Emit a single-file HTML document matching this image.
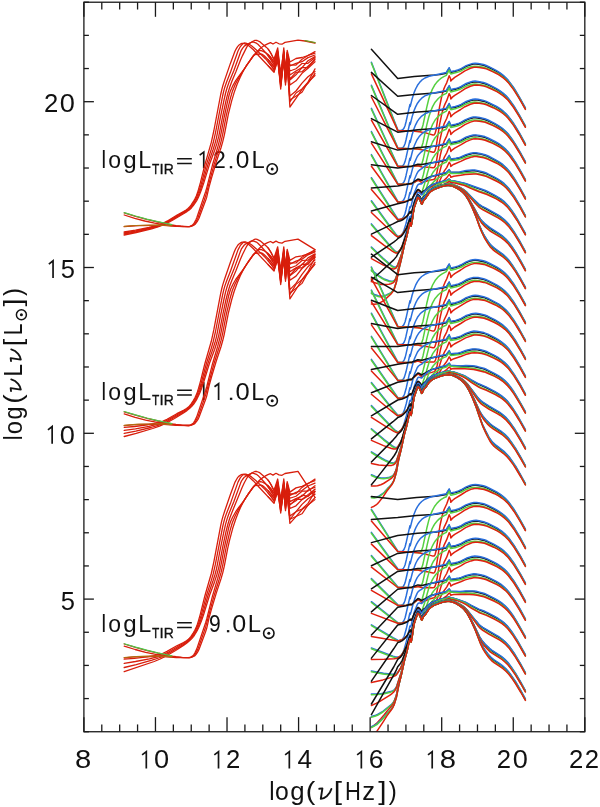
<!DOCTYPE html>
<html><head><meta charset="utf-8"><style>
html,body{margin:0;padding:0;background:#fff;}
svg{display:block;}
text{font-family:"Liberation Sans",sans-serif;fill:#111;}
.t{font-size:25px;}
.a{font-size:24px;}
.s{font-size:13.5px;}
.nu{font-family:"Liberation Serif",serif;font-style:italic;font-size:28px;}
</style></head><body>
<svg width="600" height="807" viewBox="0 0 600 807">
<g id="labels" style="will-change:transform">
<text transform="translate(60.78,609.50) scale(1.001,1.000)" style="font-family:'Liberation Sans',sans-serif;font-weight:normal;font-style:normal;font-size:25.5px">5</text>
<path d="M47.95,429.85 L52.15,426.55 L52.15,443.70" fill="none" stroke="#141414" stroke-width="1.7" stroke-linejoin="miter"/>
<text transform="translate(59.84,443.70) scale(1.066,1.000)" style="font-family:'Liberation Sans',sans-serif;font-weight:normal;font-style:normal;font-size:25.5px">0</text>
<path d="M48.85,264.05 L53.05,260.75 L53.05,277.90" fill="none" stroke="#141414" stroke-width="1.7" stroke-linejoin="miter"/>
<text transform="translate(60.78,277.90) scale(1.001,1.000)" style="font-family:'Liberation Sans',sans-serif;font-weight:normal;font-style:normal;font-size:25.5px">5</text>
<text transform="translate(43.91,112.10) scale(1.007,1.000)" style="font-family:'Liberation Sans',sans-serif;font-weight:normal;font-style:normal;font-size:25.5px">2</text>
<text transform="translate(59.84,112.10) scale(1.066,1.000)" style="font-family:'Liberation Sans',sans-serif;font-weight:normal;font-style:normal;font-size:25.5px">0</text>
<text transform="translate(74.98,768.40) scale(1.145,1.000)" style="font-family:'Liberation Sans',sans-serif;font-weight:normal;font-style:normal;font-size:25.5px">8</text>
<path d="M142.11,754.95 L146.31,751.65 L146.31,768.40" fill="none" stroke="#141414" stroke-width="1.7" stroke-linejoin="miter"/>
<text transform="translate(154.00,768.40) scale(1.066,1.000)" style="font-family:'Liberation Sans',sans-serif;font-weight:normal;font-style:normal;font-size:25.5px">0</text>
<path d="M214.32,754.95 L218.52,751.65 L218.52,768.40" fill="none" stroke="#141414" stroke-width="1.7" stroke-linejoin="miter"/>
<text transform="translate(225.98,768.40) scale(1.007,1.000)" style="font-family:'Liberation Sans',sans-serif;font-weight:normal;font-style:normal;font-size:25.5px">2</text>
<path d="M285.13,754.95 L289.33,751.65 L289.33,768.40" fill="none" stroke="#141414" stroke-width="1.7" stroke-linejoin="miter"/>
<text transform="translate(297.48,768.40) scale(1.027,1.000)" style="font-family:'Liberation Sans',sans-serif;font-weight:normal;font-style:normal;font-size:25.5px">4</text>
<path d="M357.14,754.95 L361.34,751.65 L361.34,768.40" fill="none" stroke="#141414" stroke-width="1.7" stroke-linejoin="miter"/>
<text transform="translate(368.74,768.40) scale(1.045,1.000)" style="font-family:'Liberation Sans',sans-serif;font-weight:normal;font-style:normal;font-size:25.5px">6</text>
<path d="M428.00,754.95 L432.20,751.65 L432.20,768.40" fill="none" stroke="#141414" stroke-width="1.7" stroke-linejoin="miter"/>
<text transform="translate(439.68,768.40) scale(1.145,1.000)" style="font-family:'Liberation Sans',sans-serif;font-weight:normal;font-style:normal;font-size:25.5px">8</text>
<text transform="translate(496.82,768.40) scale(1.007,1.000)" style="font-family:'Liberation Sans',sans-serif;font-weight:normal;font-style:normal;font-size:25.5px">2</text>
<text transform="translate(512.75,768.40) scale(1.066,1.000)" style="font-family:'Liberation Sans',sans-serif;font-weight:normal;font-style:normal;font-size:25.5px">0</text>
<text transform="translate(569.03,768.40) scale(1.007,1.000)" style="font-family:'Liberation Sans',sans-serif;font-weight:normal;font-style:normal;font-size:25.5px">2</text>
<text transform="translate(584.73,768.40) scale(1.007,1.000)" style="font-family:'Liberation Sans',sans-serif;font-weight:normal;font-style:normal;font-size:25.5px">2</text>
<text transform="translate(269.19,799.70) scale(0.956,1.000)" style="font-family:'Liberation Sans',sans-serif;font-weight:normal;font-style:normal;font-size:25px">l</text>
<text transform="translate(275.06,799.70) scale(0.991,1.000)" style="font-family:'Liberation Sans',sans-serif;font-weight:normal;font-style:normal;font-size:25px">o</text>
<text transform="translate(290.22,799.70) scale(1.032,1.000)" style="font-family:'Liberation Sans',sans-serif;font-weight:normal;font-style:normal;font-size:25px">g</text>
<text transform="translate(305.82,799.70) scale(1.147,1.000)" style="font-family:'Liberation Sans',sans-serif;font-weight:normal;font-style:normal;font-size:25px">(</text>
<text transform="translate(333.68,799.70) scale(1.188,1.000)" style="font-family:'Liberation Sans',sans-serif;font-weight:normal;font-style:normal;font-size:25px">[</text>
<text transform="translate(345.09,799.70) scale(0.881,1.000)" style="font-family:'Liberation Sans',sans-serif;font-weight:normal;font-style:normal;font-size:25px">H</text>
<text transform="translate(362.26,799.70) scale(1.025,1.000)" style="font-family:'Liberation Sans',sans-serif;font-weight:normal;font-style:normal;font-size:25px">z</text>
<text transform="translate(378.17,799.70) scale(1.188,1.000)" style="font-family:'Liberation Sans',sans-serif;font-weight:normal;font-style:normal;font-size:25px">]</text>
<text transform="translate(388.76,799.70) scale(0.966,1.000)" style="font-family:'Liberation Sans',sans-serif;font-weight:normal;font-style:normal;font-size:25px">)</text>
<path transform="translate(319.00,787.70) scale(1.0)" d="M0.3,1.1 L3.4,0.7 L1.8,11.2 C5.4,10.8 10.6,7.6 12.4,1.3" fill="none" stroke="#141414" stroke-width="1.9" stroke-linecap="round" stroke-linejoin="round"/>
<g transform="rotate(-90)"><text transform="translate(-440.16,21.60) scale(0.865,1.000)" style="font-family:'Liberation Sans',sans-serif;font-weight:normal;font-style:normal;font-size:25px">l</text><text transform="translate(-434.20,21.60) scale(0.949,1.000)" style="font-family:'Liberation Sans',sans-serif;font-weight:normal;font-style:normal;font-size:25px">o</text><text transform="translate(-419.38,21.60) scale(0.934,1.000)" style="font-family:'Liberation Sans',sans-serif;font-weight:normal;font-style:normal;font-size:25px">g</text><text transform="translate(-403.83,21.60) scale(1.116,1.000)" style="font-family:'Liberation Sans',sans-serif;font-weight:normal;font-style:normal;font-size:25px">(</text><text transform="translate(-376.56,21.60) scale(0.907,1.000)" style="font-family:'Liberation Sans',sans-serif;font-weight:normal;font-style:normal;font-size:25px">L</text><text transform="translate(-346.07,21.60) scale(1.047,1.000)" style="font-family:'Liberation Sans',sans-serif;font-weight:normal;font-style:normal;font-size:25px">[</text><text transform="translate(-335.23,21.60) scale(0.844,1.000)" style="font-family:'Liberation Sans',sans-serif;font-weight:normal;font-style:normal;font-size:25px">L</text><text transform="translate(-306.53,21.60) scale(1.167,1.000)" style="font-family:'Liberation Sans',sans-serif;font-weight:normal;font-style:normal;font-size:25px">]</text><text transform="translate(-295.94,21.60) scale(0.950,1.000)" style="font-family:'Liberation Sans',sans-serif;font-weight:normal;font-style:normal;font-size:25px">)</text><path transform="translate(-391.40,9.96) scale(0.97)" d="M0.3,1.1 L3.4,0.7 L1.8,11.2 C5.4,10.8 10.6,7.6 12.4,1.3" fill="none" stroke="#141414" stroke-width="1.9" stroke-linecap="round" stroke-linejoin="round"/><path transform="translate(-361.40,9.96) scale(0.97)" d="M0.3,1.1 L3.4,0.7 L1.8,11.2 C5.4,10.8 10.6,7.6 12.4,1.3" fill="none" stroke="#141414" stroke-width="1.9" stroke-linecap="round" stroke-linejoin="round"/></g>
<circle cx="21.40" cy="314.70" r="5.0" fill="none" stroke="#141414" stroke-width="1.5"/><circle cx="21.40" cy="314.70" r="1.5" fill="#141414"/>
<text transform="translate(101.62,168.30) scale(0.890,1.000)" style="font-family:'Liberation Sans',sans-serif;font-weight:normal;font-style:normal;font-size:23px">l</text>
<text transform="translate(108.29,168.30) scale(0.999,1.000)" style="font-family:'Liberation Sans',sans-serif;font-weight:normal;font-style:normal;font-size:23px">o</text>
<text transform="translate(123.24,168.30) scale(1.049,1.000)" style="font-family:'Liberation Sans',sans-serif;font-weight:normal;font-style:normal;font-size:23px">g</text>
<text transform="translate(138.18,168.30) scale(1.016,1.000)" style="font-family:'Liberation Sans',sans-serif;font-weight:normal;font-style:normal;font-size:23px">L</text>
<text transform="translate(151.98,173.80) scale(0.796,1.000)" style="stroke:#141414;stroke-width:0.35px;font-family:'Liberation Sans',sans-serif;font-weight:normal;font-style:normal;font-size:15px">T</text>
<text transform="translate(159.51,173.80) scale(1.001,1.000)" style="stroke:#141414;stroke-width:0.35px;font-family:'Liberation Sans',sans-serif;font-weight:normal;font-style:normal;font-size:15px">I</text>
<text transform="translate(163.86,173.80) scale(0.926,1.000)" style="stroke:#141414;stroke-width:0.35px;font-family:'Liberation Sans',sans-serif;font-weight:normal;font-style:normal;font-size:15px">R</text>
<path d="M177.1,158.70H191.8M177.1,163.40H191.8" stroke="#141414" stroke-width="1.5"/>
<path d="M199.65,155.10 L203.75,152.10 L203.75,168.30" fill="none" stroke="#141414" stroke-width="1.7" stroke-linejoin="miter"/>
<text transform="translate(212.94,168.30) scale(1.002,1.000)" style="font-family:'Liberation Sans',sans-serif;font-weight:normal;font-style:normal;font-size:23px">2</text>
<rect x="229.80" y="166.10" width="2.40" height="2.2" fill="#141414"/>
<text transform="translate(235.64,168.30) scale(1.064,1.000)" style="font-family:'Liberation Sans',sans-serif;font-weight:normal;font-style:normal;font-size:23px">0</text>
<text transform="translate(251.55,168.30) scale(1.035,1.000)" style="font-family:'Liberation Sans',sans-serif;font-weight:normal;font-style:normal;font-size:23px">L</text>
<circle cx="272.20" cy="169.00" r="5.2" fill="none" stroke="#141414" stroke-width="1.6"/><circle cx="272.20" cy="169.00" r="1.5" fill="#141414"/>
<text transform="translate(101.62,399.90) scale(0.890,1.000)" style="font-family:'Liberation Sans',sans-serif;font-weight:normal;font-style:normal;font-size:23px">l</text>
<text transform="translate(108.29,399.90) scale(0.999,1.000)" style="font-family:'Liberation Sans',sans-serif;font-weight:normal;font-style:normal;font-size:23px">o</text>
<text transform="translate(123.24,399.90) scale(1.049,1.000)" style="font-family:'Liberation Sans',sans-serif;font-weight:normal;font-style:normal;font-size:23px">g</text>
<text transform="translate(138.18,399.90) scale(1.016,1.000)" style="font-family:'Liberation Sans',sans-serif;font-weight:normal;font-style:normal;font-size:23px">L</text>
<text transform="translate(151.98,405.40) scale(0.796,1.000)" style="stroke:#141414;stroke-width:0.35px;font-family:'Liberation Sans',sans-serif;font-weight:normal;font-style:normal;font-size:15px">T</text>
<text transform="translate(159.51,405.40) scale(1.001,1.000)" style="stroke:#141414;stroke-width:0.35px;font-family:'Liberation Sans',sans-serif;font-weight:normal;font-style:normal;font-size:15px">I</text>
<text transform="translate(163.86,405.40) scale(0.926,1.000)" style="stroke:#141414;stroke-width:0.35px;font-family:'Liberation Sans',sans-serif;font-weight:normal;font-style:normal;font-size:15px">R</text>
<path d="M177.1,390.30H191.8M177.1,395.00H191.8" stroke="#141414" stroke-width="1.5"/>
<path d="M199.65,386.70 L203.75,383.70 L203.75,399.90" fill="none" stroke="#141414" stroke-width="1.7" stroke-linejoin="miter"/>
<path d="M214.50,386.70 L218.60,383.70 L218.60,399.90" fill="none" stroke="#141414" stroke-width="1.7" stroke-linejoin="miter"/>
<rect x="229.90" y="397.70" width="2.40" height="2.2" fill="#141414"/>
<text transform="translate(235.40,399.90) scale(1.110,1.000)" style="font-family:'Liberation Sans',sans-serif;font-weight:normal;font-style:normal;font-size:23px">0</text>
<text transform="translate(251.18,399.90) scale(1.016,1.000)" style="font-family:'Liberation Sans',sans-serif;font-weight:normal;font-style:normal;font-size:23px">L</text>
<circle cx="272.20" cy="400.80" r="5.2" fill="none" stroke="#141414" stroke-width="1.6"/><circle cx="272.20" cy="400.80" r="1.5" fill="#141414"/>
<text transform="translate(101.62,632.30) scale(0.890,1.000)" style="font-family:'Liberation Sans',sans-serif;font-weight:normal;font-style:normal;font-size:23px">l</text>
<text transform="translate(108.29,632.30) scale(0.999,1.000)" style="font-family:'Liberation Sans',sans-serif;font-weight:normal;font-style:normal;font-size:23px">o</text>
<text transform="translate(123.24,632.30) scale(1.049,1.000)" style="font-family:'Liberation Sans',sans-serif;font-weight:normal;font-style:normal;font-size:23px">g</text>
<text transform="translate(138.18,632.30) scale(1.016,1.000)" style="font-family:'Liberation Sans',sans-serif;font-weight:normal;font-style:normal;font-size:23px">L</text>
<text transform="translate(151.98,637.80) scale(0.796,1.000)" style="stroke:#141414;stroke-width:0.35px;font-family:'Liberation Sans',sans-serif;font-weight:normal;font-style:normal;font-size:15px">T</text>
<text transform="translate(159.51,637.80) scale(1.001,1.000)" style="stroke:#141414;stroke-width:0.35px;font-family:'Liberation Sans',sans-serif;font-weight:normal;font-style:normal;font-size:15px">I</text>
<text transform="translate(163.86,637.80) scale(0.926,1.000)" style="stroke:#141414;stroke-width:0.35px;font-family:'Liberation Sans',sans-serif;font-weight:normal;font-style:normal;font-size:15px">R</text>
<path d="M177.1,622.70H191.8M177.1,627.40H191.8" stroke="#141414" stroke-width="1.5"/>
<text transform="translate(209.02,632.30) scale(0.913,1.000)" style="font-family:'Liberation Sans',sans-serif;font-weight:normal;font-style:normal;font-size:23px">9</text>
<rect x="226.90" y="630.10" width="2.40" height="2.2" fill="#141414"/>
<text transform="translate(232.22,632.30) scale(1.091,1.000)" style="font-family:'Liberation Sans',sans-serif;font-weight:normal;font-style:normal;font-size:23px">0</text>
<text transform="translate(247.75,632.30) scale(1.035,1.000)" style="font-family:'Liberation Sans',sans-serif;font-weight:normal;font-style:normal;font-size:23px">L</text>
<circle cx="268.80" cy="633.20" r="5.2" fill="none" stroke="#141414" stroke-width="1.6"/><circle cx="268.80" cy="633.20" r="1.5" fill="#141414"/>
</g>
<defs><clipPath id="pc"><rect x="83.90" y="2.22" width="500.92" height="729.52"/></clipPath></defs>
<g id="curves" clip-path="url(#pc)" fill="none" stroke-linejoin="round" stroke-linecap="round">
<path d="M124.2,232.0 135.5,230.2 149.0,227.5 156.9,225.5 160.2,224.4 162.5,223.5 167.0,221.2 177.1,215.0 183.5,211.6 186.1,210.0 188.0,208.5 189.5,207.1 191.0,205.1 193.3,201.7 194.8,199.1 196.3,196.0 197.4,193.1 198.5,189.5 200.4,182.7 204.9,164.6 211.3,142.4 213.9,130.5 220.7,94.5 221.8,89.6 222.9,85.5 224.8,79.6 230.4,63.4 234.2,53.2 235.3,50.5 236.5,48.4 237.6,46.6 238.7,45.3 241.0,43.7 242.1,43.3 242.8,43.3 244.3,43.6 245.8,44.1 247.3,44.8 248.8,45.7 253.4,49.8 258.2,55.2 274.0,72.0 277.7,58.0 280.7,89.0 283.8,58.0 285.5,85.0 287.2,63.0 289.9,107.0 296.0,98.4 302.0,89.4 308.0,83.3 315.0,73.5" stroke="#d81e0c" stroke-width="1.3"/>
<path d="M124.2,233.0 135.8,231.0 149.7,228.0 157.2,226.0 162.9,224.0 168.9,220.9 186.5,210.4 188.8,208.7 190.3,207.2 192.2,204.8 194.0,202.0 195.5,199.4 197.0,196.3 199.3,190.3 201.2,184.1 206.4,164.6 211.3,149.3 213.2,142.8 215.4,133.1 222.6,96.0 223.7,91.2 224.8,87.2 226.7,81.8 230.8,71.3 238.0,51.0 240.2,46.8 241.0,45.8 242.8,43.8 243.6,43.3 244.3,43.0 245.8,43.1 249.2,44.3 251.5,45.8 256.4,50.0 265.4,58.7 269.5,63.5 274.0,69.5 277.7,56.3 280.7,86.5 283.8,56.3 285.5,82.5 287.2,60.5 289.9,96.0 296.0,91.0 302.0,83.1 308.0,76.8 315.0,71.4" stroke="#d81e0c" stroke-width="1.3"/>
<path d="M124.2,234.0 135.8,231.8 150.5,228.4 158.0,226.3 163.6,224.2 170.8,220.5 186.5,211.1 188.8,209.4 190.7,207.8 192.5,205.5 194.4,202.8 195.9,200.3 197.8,196.6 198.9,194.0 200.4,190.0 202.7,182.8 207.9,164.6 213.2,149.2 215.1,143.1 216.2,138.9 217.3,133.7 220.3,117.9 224.1,99.6 225.6,93.0 227.1,87.8 228.9,82.6 233.8,70.7 240.6,52.0 241.3,50.3 242.5,48.4 244.3,46.1 246.2,44.9 250.7,42.5 251.8,42.1 252.6,42.0 253.7,42.2 256.4,43.2 257.9,44.3 261.6,48.1 265.7,52.7 269.9,58.2 274.0,64.5 277.7,52.1 280.7,81.5 283.8,52.1 285.5,77.5 287.2,55.5 289.9,75.0 296.0,71.0 302.0,67.6 308.0,60.7 315.0,56.6" stroke="#d81e0c" stroke-width="1.3"/>
<path d="M124.2,235.0 136.2,232.5 151.6,228.8 158.7,226.7 164.4,224.5 168.5,222.5 173.4,219.8 183.5,213.8 186.9,211.6 189.2,209.9 191.4,207.9 193.3,205.7 195.2,203.0 196.7,200.6 198.2,197.7 200.0,193.5 201.5,189.6 203.8,182.9 209.4,164.6 214.7,150.3 216.9,143.4 218.8,136.2 222.6,116.6 225.9,101.1 227.8,93.4 229.7,87.2 232.0,81.1 236.1,71.3 240.2,60.8 242.5,55.6 246.6,47.4 247.7,45.7 249.6,43.6 250.7,42.7 253.0,41.3 254.1,40.7 255.2,40.3 256.0,40.3 257.1,40.5 260.1,41.9 266.5,47.4 268.4,49.4 271.0,53.5 274.0,59.5 277.7,47.9 280.7,76.5 283.8,47.9 285.5,72.5 287.2,50.5 289.9,62.0 296.0,58.5 302.0,57.5 308.0,55.5 315.0,51.6" stroke="#d81e0c" stroke-width="1.3"/>
<path d="M124.2,212.9 135.5,216.3 146.7,219.4 157.6,222.0 171.9,225.0 176.0,225.6 180.9,226.2 188.0,226.6 189.9,226.3 192.5,225.0 193.3,224.3 194.4,222.6 195.9,219.8 196.7,218.0 205.7,191.4 206.8,187.6 212.4,165.3 217.7,147.3 219.6,140.2 221.1,133.2 224.1,117.5 227.1,103.7 228.9,95.8 230.4,90.9 232.7,85.9 235.7,80.6 238.0,77.4 243.6,70.0 253.0,56.1 254.1,54.9 254.9,54.5 260.1,54.0 261.2,54.0 262.4,54.4 264.2,55.8 268.7,60.2 271.4,63.4 274.0,67.0 277.7,56.2 280.7,84.0 283.8,56.2 285.5,80.0 287.2,58.0 289.9,85.0 296.0,80.8 302.0,73.3 308.0,68.2 315.0,61.7" stroke="#d81e0c" stroke-width="1.3"/>
<path d="M124.2,215.0 134.7,218.3 144.8,221.0 154.6,223.1 165.1,224.8 175.6,226.0 183.5,226.5 188.8,226.6 189.9,226.5 191.0,226.2 193.7,224.8 194.4,224.1 195.5,222.6 197.0,219.9 197.8,218.3 204.2,200.2 205.7,195.6 213.9,165.1 219.2,148.1 221.1,141.3 222.6,134.7 226.3,115.4 230.1,99.3 232.3,91.6 235.3,84.3 238.7,77.9 246.2,66.0 252.2,57.3 254.5,54.5 257.9,51.4 259.4,50.6 260.1,50.5 261.2,50.7 262.7,51.2 264.2,52.0 266.5,53.3 268.0,54.5 271.0,57.8 274.0,62.0 277.7,52.0 280.7,79.0 283.8,52.0 285.5,75.0 287.2,53.0 289.9,66.0 296.0,63.3 302.0,61.7 308.0,57.6 315.0,55.0" stroke="#d81e0c" stroke-width="1.3"/>
<path d="M124.2,226.7 131.5,226.0 139.2,225.6 157.9,225.3 163.8,225.4 176.3,226.4 189.5,226.6 190.9,226.4 192.4,225.9 194.2,225.0 195.3,224.2 197.2,221.7 199.0,218.3 205.6,200.6 206.7,197.2 208.9,187.6 211.5,178.1 216.2,162.3 221.0,147.8 222.8,141.4 224.3,135.1 228.3,114.4 231.6,101.1 234.2,92.4 237.1,84.3 240.1,77.4 243.4,70.7 246.7,65.2 253.3,56.2 257.3,51.5 259.9,48.8 262.1,47.0 264.6,45.3 267.6,43.8 270.5,42.6 273.0,44.0 276.0,42.2 279.0,43.8 282.0,44.2 285.0,42.4 298.0,40.2 305.0,41.0 315.0,43.0" stroke="#d81e0c" stroke-width="1.3"/>
<path d="M268.0,65.6 274.0,72.0 277.7,60.8 280.7,85.6 283.8,60.8 285.5,82.4 287.2,64.8 289.9,100.0 302.0,92.2 308.0,82.3 315.0,75.5" stroke="#d81e0c" stroke-width="1.2"/>
<path d="M268.0,61.7 270.9,65.3 274.0,69.5 277.7,59.1 280.7,83.1 283.8,59.1 285.5,79.9 287.2,62.3 289.9,102.0 296.0,93.0 302.0,89.0 308.0,82.1 315.0,68.9" stroke="#d81e0c" stroke-width="1.2"/>
<path d="M268.0,55.6 270.9,59.7 274.0,64.5 277.7,54.9 280.7,78.1 283.8,54.9 285.5,74.9 287.2,57.3 289.9,80.0 296.0,74.8 302.0,67.7 308.0,67.6 315.0,58.6" stroke="#d81e0c" stroke-width="1.2"/>
<path d="M268.0,49.0 269.4,50.8 270.8,53.1 274.0,59.5 277.7,50.7 280.7,73.1 283.8,50.7 285.5,69.9 287.2,52.3 289.9,65.0 296.0,65.1 302.0,59.3 308.0,55.4 315.0,53.1" stroke="#d81e0c" stroke-width="1.2"/>
<path d="M268.0,59.5 270.9,62.8 274.0,67.0 277.7,59.0 280.7,80.6 283.8,59.0 285.5,77.4 287.2,59.8 289.9,79.0 296.0,72.3 302.0,71.7 315.0,59.7" stroke="#d81e0c" stroke-width="1.2"/>
<path d="M268.0,54.5 270.8,57.5 274.0,62.0 277.7,54.8 280.7,75.6 283.8,54.8 285.5,72.4 287.2,54.8 289.9,71.0 296.0,68.7 302.0,63.5 308.0,63.3 315.0,57.5" stroke="#d81e0c" stroke-width="1.2"/>
<path d="M124.2,212.6 135.5,216.0 146.7,219.1 157.6,221.7 171.9,224.7" stroke="#4cc84a" stroke-width="1.2"/>
<path d="M124.2,226.4 135.9,225.5 149.5,225.1 162.0,225.0 171.9,225.8" stroke="#b07010" stroke-width="1.2"/>
<path d="M305.0,40.6 315.0,42.6" stroke="#6a9a20" stroke-width="1.3"/>
<path d="M124.2,427.3 134.7,426.5 147.5,424.9 156.1,423.2 160.2,422.2 162.5,421.4 167.0,419.3 176.8,413.7 183.5,410.3 186.5,408.5 188.4,407.1 189.5,406.0 191.0,404.1 193.3,400.6 194.8,398.0 196.3,394.9 197.4,392.0 198.5,388.4 200.4,381.6 204.9,363.5 211.3,341.3 213.9,329.4 220.7,293.4 221.8,288.5 222.9,284.4 224.8,278.5 230.4,262.3 234.2,252.1 235.3,249.4 236.5,247.3 237.6,245.5 238.7,244.2 241.0,242.6 242.1,242.2 242.8,242.2 244.3,242.5 245.8,243.0 247.3,243.7 248.8,244.6 253.4,248.7 258.2,254.1 274.0,270.9 277.7,256.9 280.7,284.5 283.8,256.9 285.5,281.3 287.2,261.9 289.9,298.9 296.0,289.5 302.0,279.8 308.0,273.1 315.0,262.4" stroke="#d81e0c" stroke-width="1.3"/>
<path d="M124.2,430.4 135.5,428.8 149.0,426.3 156.9,424.4 160.2,423.4 162.9,422.4 168.9,419.4 186.5,409.3 188.8,407.6 190.3,406.1 192.2,403.7 194.0,400.9 195.5,398.3 197.0,395.2 199.3,389.2 201.2,383.0 206.4,363.5 211.3,348.2 213.2,341.7 215.4,332.0 222.6,294.9 223.7,290.1 224.8,286.1 226.7,280.7 230.8,270.2 238.0,249.9 240.2,245.7 241.0,244.7 242.8,242.7 243.6,242.2 244.3,241.9 245.8,242.0 249.2,243.2 251.5,244.7 256.4,248.9 265.4,257.6 269.5,262.4 274.0,268.4 277.7,255.2 280.7,282.0 283.8,255.2 285.5,278.8 287.2,259.4 289.9,289.6 296.0,283.4 302.0,274.3 308.0,266.7 315.0,259.9" stroke="#d81e0c" stroke-width="1.3"/>
<path d="M124.2,433.4 135.8,431.1 150.9,427.5 158.0,425.4 163.6,423.3 167.0,421.6 171.1,419.3 183.9,411.7 186.9,409.8 189.2,408.0 191.0,406.3 192.9,403.9 194.8,401.1 196.3,398.5 197.8,395.5 198.9,392.9 200.4,388.9 202.7,381.7 207.9,363.5 213.2,348.1 215.1,342.0 216.2,337.8 217.3,332.6 220.3,316.8 224.1,298.5 225.6,291.9 227.1,286.7 228.9,281.5 233.8,269.6 240.6,250.9 241.3,249.2 242.5,247.3 244.3,245.0 246.2,243.8 250.7,241.4 251.8,241.0 252.6,240.9 253.7,241.1 256.4,242.1 257.9,243.2 261.6,247.0 265.7,251.6 269.9,257.1 274.0,263.4 277.7,251.0 280.7,277.0 283.8,251.0 285.5,273.8 287.2,254.4 289.9,271.8 296.0,267.9 302.0,264.7 308.0,257.9 315.0,253.9" stroke="#d81e0c" stroke-width="1.3"/>
<path d="M124.2,436.5 136.2,433.3 152.7,428.5 159.5,426.2 165.1,423.7 169.6,421.3 174.5,418.5 183.5,412.9 186.9,410.6 189.5,408.6 191.8,406.4 193.7,404.1 195.5,401.3 197.0,398.8 198.5,395.8 200.0,392.4 201.5,388.5 203.8,381.8 209.4,363.5 214.7,349.2 216.9,342.3 218.8,335.1 222.6,315.5 225.9,300.0 227.8,292.3 229.7,286.1 232.0,280.0 236.1,270.2 240.2,259.7 242.5,254.5 246.6,246.3 247.7,244.6 249.6,242.5 250.7,241.6 253.0,240.2 254.1,239.6 255.2,239.2 256.0,239.2 257.1,239.4 260.1,240.8 266.5,246.3 268.4,248.3 271.0,252.4 274.0,258.4 277.7,246.8 280.7,272.0 283.8,246.8 285.5,268.8 287.2,249.4 289.9,260.4 296.0,256.8 302.0,255.8 308.0,253.8 315.0,249.9" stroke="#d81e0c" stroke-width="1.3"/>
<path d="M124.2,411.8 135.5,415.2 147.1,418.4 158.0,421.0 172.3,424.0 176.0,424.5 181.6,425.1 188.4,425.5 189.5,425.3 190.7,424.9 192.9,423.6 193.7,422.7 194.8,420.9 196.7,416.9 205.7,390.3 206.8,386.5 212.4,364.2 217.7,346.2 219.6,339.1 221.1,332.1 224.1,316.4 227.1,302.6 228.9,294.7 230.4,289.8 232.7,284.8 235.7,279.5 238.0,276.3 243.6,268.9 252.6,255.5 253.7,254.2 254.9,253.4 260.1,252.9 261.2,252.9 262.4,253.3 264.2,254.7 268.7,259.1 271.4,262.3 274.0,265.9 277.7,255.1 280.7,279.5 283.8,255.1 285.5,276.3 287.2,256.9 289.9,280.3 296.0,276.1 302.0,268.5 308.0,263.4 315.0,256.9" stroke="#d81e0c" stroke-width="1.3"/>
<path d="M124.2,413.9 135.1,417.3 145.6,420.1 155.7,422.2 166.6,423.9 176.4,424.9 183.9,425.4 188.8,425.5 189.9,425.4 191.4,424.9 193.3,424.0 194.0,423.4 194.8,422.6 195.9,420.8 197.8,417.2 204.2,399.1 205.7,394.5 213.9,364.0 219.2,347.0 221.1,340.2 222.6,333.6 226.3,314.3 230.1,298.2 232.3,290.5 235.0,284.0 238.0,278.1 245.5,266.0 248.8,261.0 252.6,255.7 254.5,253.4 257.9,250.3 259.0,249.6 260.1,249.4 261.6,249.7 263.1,250.3 266.1,252.0 267.6,253.1 270.6,256.2 274.0,260.9 277.7,250.9 280.7,274.5 283.8,250.9 285.5,271.3 287.2,251.9 289.9,264.1 296.0,261.1 302.0,259.2 308.0,254.8 315.0,251.9" stroke="#d81e0c" stroke-width="1.3"/>
<path d="M124.2,425.6 131.5,424.9 139.2,424.5 157.9,424.2 163.8,424.3 176.3,425.3 189.5,425.5 190.6,425.4 192.0,424.9 193.9,424.1 195.0,423.4 196.8,421.2 198.3,418.8 199.0,417.2 205.6,399.5 206.7,396.1 208.9,386.5 211.5,377.0 216.2,361.2 221.0,346.7 222.8,340.3 224.3,334.0 228.3,313.3 231.6,300.0 234.2,291.3 237.1,283.2 240.4,275.5 244.1,268.3 247.4,263.0 253.6,254.7 257.7,250.0 259.9,247.7 262.1,245.9 264.6,244.2 267.6,242.7 270.5,241.5 273.0,242.9 276.0,241.1 279.0,242.7 282.0,243.1 285.0,241.3 298.0,239.1 315.0,249.6" stroke="#d81e0c" stroke-width="1.3"/>
<path d="M268.0,264.5 274.0,270.9 277.7,259.7 280.7,281.8 283.8,259.7 285.5,279.2 287.2,263.7 289.9,293.3 302.0,283.4 308.0,272.5 315.0,264.4" stroke="#d81e0c" stroke-width="1.2"/>
<path d="M268.0,260.6 270.9,264.2 274.0,268.4 277.7,258.0 280.7,279.3 283.8,258.0 285.5,276.7 287.2,261.2 289.9,294.4 296.0,284.4 302.0,279.6 308.0,271.7 315.0,257.4" stroke="#d81e0c" stroke-width="1.2"/>
<path d="M268.0,254.5 270.9,258.6 274.0,263.4 277.7,253.8 280.7,274.3 283.8,253.8 285.5,271.7 287.2,256.2 289.9,275.8 296.0,271.0 302.0,264.2 308.0,264.4 315.0,255.9" stroke="#d81e0c" stroke-width="1.2"/>
<path d="M268.0,247.9 269.4,249.7 270.8,252.0 274.0,258.4 277.7,249.6 280.7,269.3 283.8,249.6 285.5,266.7 287.2,251.2 289.9,262.8 296.0,263.0 302.0,257.3 308.0,253.6 315.0,251.4" stroke="#d81e0c" stroke-width="1.2"/>
<path d="M268.0,258.4 270.9,261.7 274.0,265.9 277.7,257.9 280.7,276.8 283.8,257.9 285.5,274.2 287.2,258.7 289.9,275.5 296.0,268.5 302.0,267.6 315.0,254.9" stroke="#d81e0c" stroke-width="1.2"/>
<path d="M268.0,253.4 270.8,256.4 274.0,260.9 277.7,253.7 280.7,271.8 283.8,253.7 285.5,269.2 287.2,253.7 289.9,268.1 296.0,265.8 302.0,260.5 308.0,260.2 315.0,254.4" stroke="#d81e0c" stroke-width="1.2"/>
<path d="M124.2,411.5 135.5,414.9 146.7,418.0 157.6,420.6 171.9,423.6" stroke="#4cc84a" stroke-width="1.2"/>
<path d="M124.2,425.3 135.9,424.4 149.5,424.0 162.0,423.9 171.9,424.7" stroke="#b07010" stroke-width="1.2"/>
<path d="M315.0,249.2" stroke="#6a9a20" stroke-width="1.3"/>
<path d="M124.2,659.1 134.3,658.4 147.1,656.9 155.7,655.4 160.2,654.3 162.5,653.5 167.0,651.4 176.8,645.8 183.5,642.5 186.5,640.7 188.4,639.3 189.5,638.2 191.0,636.3 193.3,632.8 194.8,630.2 196.3,627.1 197.4,624.2 198.5,620.6 200.4,613.8 204.9,595.7 211.3,573.5 213.9,561.6 220.7,525.6 221.8,520.7 222.9,516.6 224.8,510.7 230.4,494.5 234.2,484.3 235.3,481.6 236.5,479.5 237.6,477.7 238.7,476.4 241.0,474.8 242.1,474.4 242.8,474.4 244.3,474.7 245.8,475.2 247.3,475.9 248.8,476.8 253.4,480.9 258.2,486.3 274.0,503.1 277.7,489.1 280.7,513.0 283.8,489.1 285.5,510.6 287.2,494.1 289.9,523.4 296.0,516.6 302.0,509.5 308.0,505.3 315.0,497.6" stroke="#d81e0c" stroke-width="1.3"/>
<path d="M124.2,663.3 135.5,661.5 149.4,658.8 157.2,656.8 162.9,654.8 168.9,651.8 186.5,641.5 188.8,639.8 190.3,638.3 192.2,635.9 194.0,633.1 195.5,630.5 197.0,627.4 199.3,621.4 201.2,615.2 206.4,595.7 211.3,580.4 213.2,573.9 215.4,564.2 222.6,527.1 223.7,522.3 224.8,518.3 226.7,512.9 230.8,502.4 238.0,482.1 240.2,477.9 241.0,476.9 242.8,474.9 243.6,474.4 244.3,474.1 245.8,474.2 249.2,475.4 251.5,476.9 256.4,481.1 265.4,489.8 269.5,494.6 274.0,500.6 277.7,487.4 280.7,510.5 283.8,487.4 285.5,508.1 287.2,491.6 289.9,516.0 296.0,511.7 302.0,504.4 308.0,498.7 315.0,494.1" stroke="#d81e0c" stroke-width="1.3"/>
<path d="M124.2,667.5 136.2,664.6 152.0,660.2 158.7,658.0 164.0,655.8 171.9,651.4 183.9,644.1 186.9,642.1 189.2,640.3 191.0,638.4 192.9,636.1 194.8,633.3 196.3,630.7 197.8,627.7 198.9,625.1 200.4,621.1 202.7,613.9 207.9,595.7 213.2,580.3 215.1,574.2 216.2,570.0 217.3,564.8 220.3,549.0 224.1,530.7 225.6,524.1 227.1,518.9 228.9,513.7 233.8,501.8 240.6,483.1 241.3,481.4 242.5,479.5 244.3,477.2 246.2,476.0 250.7,473.6 251.8,473.2 252.6,473.1 253.7,473.3 256.4,474.3 257.9,475.4 261.6,479.2 265.7,483.8 269.9,489.3 274.0,495.6 277.7,483.2 280.7,505.5 283.8,483.2 285.5,503.1 287.2,486.6 289.9,501.7 296.0,498.6 302.0,496.2 308.0,490.2 315.0,487.1" stroke="#d81e0c" stroke-width="1.3"/>
<path d="M124.2,671.7 154.2,661.5 160.2,659.0 166.2,656.0 175.6,650.5 183.5,645.4 186.9,643.0 189.5,640.8 191.8,638.6 193.7,636.3 195.5,633.5 197.0,631.0 198.5,628.0 200.0,624.6 201.5,620.7 203.8,614.0 209.4,595.7 214.7,581.4 216.9,574.5 218.8,567.3 222.6,547.7 225.9,532.2 227.8,524.5 229.7,518.3 232.0,512.2 242.1,487.6 244.3,482.8 246.6,478.5 247.7,476.8 249.2,475.1 250.3,474.1 252.2,472.8 253.7,472.0 254.9,471.5 255.6,471.4 256.7,471.5 259.7,472.7 266.5,478.5 268.4,480.5 271.0,484.6 274.0,490.6 277.7,479.0 280.7,500.5 283.8,479.0 285.5,498.1 287.2,481.6 289.9,492.1 296.0,487.9 302.0,486.3 308.0,483.7 315.0,479.1" stroke="#d81e0c" stroke-width="1.3"/>
<path d="M124.2,644.0 135.5,647.4 147.1,650.6 158.0,653.2 172.3,656.2 176.0,656.7 181.6,657.3 188.4,657.7 189.5,657.5 190.7,657.1 192.9,655.8 193.7,654.9 194.8,653.1 196.7,649.1 205.7,622.5 206.8,618.7 212.4,596.4 217.7,578.4 219.6,571.3 221.1,564.3 224.1,548.6 227.1,534.8 228.9,526.9 230.4,522.0 232.7,517.0 235.7,511.7 238.0,508.5 243.6,501.1 253.0,487.2 254.1,486.0 254.9,485.6 260.1,485.1 261.2,485.1 262.4,485.5 264.2,486.9 268.7,491.3 271.4,494.5 274.0,498.1 277.7,487.3 280.7,508.0 283.8,487.3 285.5,505.6 287.2,489.1 289.9,508.5 296.0,505.8 302.0,499.6 308.0,496.0 315.0,491.1" stroke="#d81e0c" stroke-width="1.3"/>
<path d="M124.2,646.1 135.1,649.5 145.6,652.3 155.7,654.4 166.6,656.1 176.4,657.1 183.9,657.6 188.8,657.7 189.9,657.6 191.4,657.1 193.3,656.2 194.0,655.6 194.8,654.8 195.9,653.0 197.8,649.4 204.2,631.3 205.7,626.7 213.9,596.2 219.2,579.2 221.1,572.4 222.6,565.8 226.3,546.5 230.1,530.4 232.3,522.7 235.0,516.2 238.0,510.3 245.1,498.8 248.5,493.7 252.6,487.9 254.5,485.6 257.9,482.5 259.0,481.8 260.1,481.6 261.6,481.9 263.1,482.5 266.1,484.2 267.6,485.3 270.6,488.4 274.0,493.1 277.7,483.1 280.7,503.0 283.8,483.1 285.5,500.6 287.2,484.1 289.9,495.4 296.0,492.4 302.0,490.5 308.0,486.0 315.0,483.1" stroke="#d81e0c" stroke-width="1.3"/>
<path d="M124.2,657.8 131.5,657.1 139.2,656.7 157.9,656.4 163.8,656.5 176.3,657.5 189.5,657.7 191.3,657.4 193.5,656.5 195.0,655.6 196.1,654.4 197.9,651.6 199.0,649.4 205.6,631.7 206.7,628.3 208.9,618.7 211.5,609.2 216.2,593.4 221.0,578.9 222.8,572.5 224.3,566.2 227.6,548.8 229.4,540.9 232.7,528.3 235.7,519.2 237.9,513.6 240.4,507.7 243.0,502.5 245.6,498.0 248.5,493.6 253.3,487.3 258.0,481.8 260.6,479.2 262.8,477.6 265.0,476.2 267.9,474.7 270.5,473.7 273.0,475.1 276.0,473.3 279.0,474.9 282.0,475.3 285.0,473.5 298.0,471.3 315.0,497.4" stroke="#d81e0c" stroke-width="1.3"/>
<path d="M268.0,496.7 274.0,503.1 277.7,491.9 280.7,511.0 283.8,491.9 285.5,509.1 287.2,495.9 289.9,519.3 302.0,513.8 308.0,505.1 315.0,499.6" stroke="#d81e0c" stroke-width="1.2"/>
<path d="M268.0,492.8 270.9,496.4 274.0,500.6 277.7,490.2 280.7,508.5 283.8,490.2 285.5,506.6 287.2,493.4 289.9,519.5 296.0,511.7 302.0,509.0 308.0,503.4 315.0,491.6" stroke="#d81e0c" stroke-width="1.2"/>
<path d="M268.0,486.7 270.9,490.8 274.0,495.6 277.7,486.0 280.7,503.5 283.8,486.0 285.5,501.6 287.2,488.4 289.9,504.6 296.0,500.8 302.0,495.1 308.0,496.4 315.0,489.1" stroke="#d81e0c" stroke-width="1.2"/>
<path d="M268.0,480.1 269.4,481.9 270.8,484.2 274.0,490.6 277.7,481.8 280.7,498.5 283.8,481.8 285.5,496.6 287.2,483.4 289.9,493.8 296.0,493.6 302.0,487.4 308.0,483.3 315.0,480.6" stroke="#d81e0c" stroke-width="1.2"/>
<path d="M268.0,490.6 270.9,493.9 274.0,498.1 277.7,490.1 280.7,506.0 283.8,490.1 285.5,504.1 287.2,490.9 289.9,505.1 296.0,499.2 302.0,499.4 315.0,489.1" stroke="#d81e0c" stroke-width="1.2"/>
<path d="M268.0,485.6 270.8,488.6 274.0,493.1 277.7,485.9 280.7,501.0 283.8,485.9 285.5,499.1 287.2,485.9 289.9,498.3 296.0,496.2 302.0,491.2 308.0,491.1 315.0,485.6" stroke="#d81e0c" stroke-width="1.2"/>
<path d="M124.2,643.7 135.5,647.1 146.7,650.2 157.6,652.8 171.9,655.8" stroke="#4cc84a" stroke-width="1.2"/>
<path d="M124.2,657.5 135.9,656.6 149.5,656.2 162.0,656.1 171.9,656.9" stroke="#b07010" stroke-width="1.2"/>
<path d="M315.0,497.0" stroke="#6a9a20" stroke-width="1.3"/><path d="M371.4,49.3 397.7,78.4 414.3,76.5 434.5,75.1 439.9,74.4 446.3,73.2 449.2,68.4 450.5,72.1 450.8,72.3 455.3,71.4 458.5,70.4 461.1,69.3 466.2,66.3 470.7,64.7 473.6,64.0 475.8,63.9 478.7,64.2 483.5,65.2 485.7,66.0 493.7,69.8 498.8,72.7 503.0,75.8 507.2,79.7 510.7,84.1 515.2,90.6 520.6,99.8 525.4,108.6" stroke="#111111" stroke-width="1.5"/>
<path d="M371.4,62.2 397.7,129.6 397.7,130.4 400.9,130.4 402.2,130.1 403.1,129.4 404.1,128.0 405.1,125.5 406.0,122.0 409.9,104.6 410.2,106.6 412.1,99.0 414.0,92.9 415.6,89.0 417.5,85.3 419.5,82.6 421.7,80.2 424.9,78.0 429.1,76.3 432.6,75.4 446.3,72.5 449.2,67.7 450.5,71.4 450.8,71.6 455.3,70.7 458.5,69.7 461.1,68.6 466.2,65.6 470.4,64.1 472.9,63.4 475.2,63.2 478.0,63.4 483.5,64.5 485.7,65.3 488.9,66.7 496.6,70.7 500.1,72.9 503.3,75.3 505.9,77.7 508.1,80.1 513.6,87.5 519.0,96.4 525.4,107.9" stroke="#2a6fdc" stroke-width="1.5"/>
<path d="M371.4,63.0 397.7,130.4 407.9,130.7 418.5,131.5 419.8,131.3 420.7,130.6 422.0,128.2 423.0,125.0 426.8,107.1 428.7,99.3 430.3,94.2 432.3,89.4 434.5,85.3 437.1,81.9 439.0,80.0 441.2,78.2 443.8,76.6 446.3,75.4 449.2,70.2 450.5,73.7 450.8,73.9 456.3,72.6 459.5,71.6 461.4,70.7 465.6,68.4 468.8,67.3 472.3,66.4 474.8,66.2 479.3,66.5 484.8,67.6 488.0,68.8 495.6,72.4 499.5,74.5 503.0,77.0 506.5,80.1 509.1,83.0 512.6,87.7 515.8,92.4 520.9,101.0 525.4,109.0" stroke="#55d040" stroke-width="1.5"/>
<path d="M371.4,73.9 397.7,130.4 408.6,130.8 417.9,131.5 426.5,133.1 432.9,135.0 433.5,135.1 434.2,134.9 435.1,133.4 436.1,129.7 439.6,106.6 441.9,95.5 443.8,89.1 445.1,86.0 446.7,82.8 449.2,75.7 450.5,78.5 450.8,81.1 452.4,79.3 454.7,77.4 460.7,73.7 464.9,70.9 470.4,68.3 473.9,67.3 476.4,67.2 479.3,67.4 483.8,68.2 486.4,68.9 493.1,71.9 496.9,73.7 500.4,75.8 503.6,78.2 506.2,80.4 508.1,82.4 513.6,89.6 519.0,98.2 525.4,109.4" stroke="#e0200f" stroke-width="1.5"/>
<path d="M371.4,72.4 397.7,96.3 414.7,94.4 434.5,93.0 439.9,92.3 446.3,91.1 449.2,86.3 450.5,90.0 450.8,90.2 455.3,89.3 458.5,88.3 461.1,87.2 466.2,84.2 470.7,82.6 473.6,81.9 475.8,81.8 478.4,82.1 485.1,83.7 487.6,84.7 493.1,87.4 498.2,90.3 502.7,93.4 506.8,97.3 510.4,101.6 514.8,108.1 520.6,117.8 525.4,126.5" stroke="#111111" stroke-width="1.5"/>
<path d="M371.4,85.3 397.7,147.5 397.7,148.3 400.9,148.3 402.2,148.0 403.1,147.4 404.1,145.9 405.1,143.5 406.0,140.0 409.9,122.5 410.2,124.5 412.1,116.9 414.0,110.8 415.6,106.9 417.5,103.2 419.5,100.5 421.7,98.2 424.9,95.9 429.1,94.2 432.6,93.3 446.3,90.4 449.2,85.6 450.5,89.3 450.8,89.5 455.3,88.6 458.5,87.6 461.1,86.5 466.2,83.5 470.4,82.0 472.9,81.3 475.2,81.1 478.0,81.4 483.5,82.5 485.7,83.2 488.9,84.6 496.6,88.6 500.1,90.8 503.3,93.3 505.9,95.6 508.1,98.0 513.6,105.4 519.0,114.3 525.4,125.8" stroke="#2a6fdc" stroke-width="1.5"/>
<path d="M371.4,86.1 397.7,148.3 418.8,149.1 419.8,148.9 420.7,148.3 421.7,146.7 423.0,142.7 426.8,124.9 428.7,117.2 430.7,111.2 432.6,106.6 435.1,102.2 438.3,98.5 440.3,96.8 442.2,95.4 446.3,93.4 449.2,88.1 450.5,91.7 450.8,91.9 456.3,90.5 459.5,89.5 461.4,88.6 465.6,86.3 468.8,85.2 472.3,84.3 474.8,84.1 479.3,84.5 484.8,85.5 488.0,86.7 495.6,90.3 499.5,92.5 503.0,95.0 506.5,98.1 509.1,100.9 512.6,105.6 515.8,110.4 520.9,118.9 525.4,126.9" stroke="#55d040" stroke-width="1.5"/>
<path d="M371.4,97.0 397.7,148.3 417.9,149.1 428.1,151.0 432.9,152.2 433.5,152.2 434.2,152.0 435.1,150.6 436.1,147.0 439.6,124.4 441.9,113.4 443.8,107.0 445.1,103.9 446.7,100.7 449.2,93.6 450.5,96.4 450.8,99.0 452.4,97.2 454.7,95.3 460.7,91.6 464.9,88.8 470.4,86.3 473.9,85.2 476.4,85.1 479.3,85.3 483.8,86.1 486.4,86.9 493.1,89.8 496.9,91.7 500.4,93.8 503.6,96.1 506.2,98.4 508.1,100.3 513.6,107.5 519.0,116.1 525.4,127.3" stroke="#e0200f" stroke-width="1.5"/>
<path d="M371.4,95.5 397.7,114.3 417.5,112.0 436.4,110.8 446.3,108.9 449.2,104.2 450.5,107.9 450.8,108.1 455.3,107.2 458.5,106.2 461.1,105.1 466.2,102.2 470.7,100.5 473.2,99.9 475.2,99.8 477.7,99.9 484.4,101.4 488.9,103.3 494.7,106.2 498.2,108.2 502.7,111.4 506.8,115.2 510.4,119.5 514.8,126.0 520.6,135.7 525.4,144.5" stroke="#111111" stroke-width="1.5"/>
<path d="M371.4,108.4 397.7,165.5 397.7,166.3 400.9,166.2 402.2,165.9 403.1,165.3 404.1,163.8 405.1,161.4 406.0,157.9 409.9,140.4 410.2,142.4 412.1,134.8 414.0,128.7 415.6,124.8 417.5,121.1 419.5,118.4 421.7,116.1 424.9,113.8 429.1,112.1 432.6,111.2 446.3,108.3 449.2,103.5 450.5,107.2 450.8,107.4 455.3,106.5 458.5,105.5 461.1,104.4 466.2,101.5 470.4,99.9 472.9,99.3 475.2,99.1 478.0,99.3 483.5,100.4 485.7,101.1 488.9,102.6 496.6,106.5 500.1,108.7 503.3,111.2 505.9,113.5 508.1,115.9 513.6,123.3 519.0,132.2 525.4,143.8" stroke="#2a6fdc" stroke-width="1.5"/>
<path d="M371.4,109.2 397.7,166.3 412.1,166.6 417.5,165.8 419.8,165.8 420.4,165.6 421.1,165.1 422.0,163.2 423.0,160.1 426.8,142.6 428.7,135.0 430.7,129.0 432.6,124.4 435.1,120.0 438.3,116.3 440.3,114.7 442.2,113.3 446.3,111.2 449.2,106.0 450.5,109.5 450.8,109.7 456.3,108.4 459.5,107.4 461.4,106.5 465.6,104.2 468.8,103.1 472.3,102.2 474.8,102.0 479.3,102.4 484.8,103.4 488.0,104.6 495.6,108.2 499.5,110.4 503.0,112.9 506.5,116.0 509.1,118.8 512.6,123.5 515.8,128.3 520.9,136.8 525.4,144.9" stroke="#55d040" stroke-width="1.5"/>
<path d="M371.4,120.1 397.7,166.3 411.5,166.6 417.9,165.8 422.0,167.0 429.1,167.3 432.9,167.7 434.2,167.5 434.8,166.8 435.5,165.4 436.4,161.6 439.9,140.1 442.2,129.8 444.1,123.9 446.7,118.5 449.2,111.4 450.5,114.2 450.8,116.8 452.4,115.0 454.7,113.2 460.7,109.5 464.9,106.7 470.4,104.2 473.9,103.2 476.4,103.0 479.3,103.3 483.8,104.0 486.4,104.8 493.1,107.7 496.9,109.6 500.4,111.7 503.6,114.0 506.2,116.3 508.1,118.3 513.6,125.4 519.0,134.0 525.4,145.3" stroke="#e0200f" stroke-width="1.5"/>
<path d="M371.4,118.6 397.7,132.2 417.9,129.8 436.4,128.5 446.3,126.7 449.2,122.0 450.5,125.7 450.8,125.9 455.3,125.0 458.5,124.0 461.1,122.9 466.2,120.0 470.7,118.4 473.2,117.8 475.2,117.7 477.7,117.9 484.1,119.2 488.6,121.0 494.4,123.9 497.9,125.9 502.7,129.3 506.8,133.1 510.4,137.4 514.8,143.9 520.6,153.6 525.4,162.4" stroke="#111111" stroke-width="1.5"/>
<path d="M371.4,131.5 397.7,183.4 397.7,184.2 400.9,184.1 402.2,183.8 403.1,183.1 404.1,181.6 405.1,179.2 406.0,175.7 409.9,158.2 410.2,160.2 412.4,151.5 414.3,145.7 416.9,140.0 419.5,136.2 421.1,134.5 423.3,132.6 425.2,131.5 427.8,130.3 432.3,129.0 446.3,126.0 449.2,121.3 450.5,125.0 450.8,125.2 455.6,124.2 459.1,123.1 461.1,122.2 465.6,119.6 470.4,117.8 473.2,117.1 475.8,117.0 479.6,117.5 484.8,118.7 488.0,120.0 494.7,123.4 498.8,125.8 502.4,128.3 505.9,131.5 508.8,134.6 512.3,139.4 515.8,144.8 520.9,153.5 525.4,161.7" stroke="#2a6fdc" stroke-width="1.5"/>
<path d="M371.4,132.3 397.7,184.2 406.3,184.1 410.2,183.7 411.5,183.9 412.4,183.6 417.5,180.4 418.2,180.3 420.4,180.8 421.1,180.6 421.4,180.4 422.3,178.3 423.3,175.0 427.1,158.4 428.7,152.3 430.7,146.5 432.6,142.0 435.1,137.7 438.3,134.0 440.3,132.4 442.2,131.0 446.3,129.0 449.2,123.8 450.5,127.3 450.8,127.5 456.3,126.2 459.5,125.2 461.4,124.4 465.6,122.1 468.8,121.0 472.3,120.1 474.8,119.9 479.3,120.3 484.8,121.4 488.0,122.6 495.6,126.2 499.5,128.3 503.0,130.8 506.5,133.9 509.1,136.8 512.6,141.5 515.8,146.2 520.9,154.8 525.4,162.8" stroke="#55d040" stroke-width="1.5"/>
<path d="M371.4,143.2 397.7,184.2 406.3,184.1 410.2,183.7 411.5,183.9 412.4,183.6 414.7,182.1 417.9,180.3 418.8,180.5 420.1,181.3 421.4,182.3 422.0,182.5 423.3,181.9 425.5,181.5 429.1,180.3 433.5,179.5 434.5,179.0 435.1,178.2 435.8,176.9 436.7,173.6 440.3,155.1 442.5,146.0 444.1,141.4 446.7,136.1 449.2,129.2 450.5,131.9 450.8,134.5 452.4,132.7 454.3,131.1 460.7,127.3 464.9,124.6 470.4,122.1 473.9,121.1 476.4,120.9 479.3,121.2 483.8,121.9 486.4,122.7 493.1,125.6 496.9,127.5 500.4,129.6 503.6,132.0 506.2,134.2 508.1,136.2 513.6,143.3 519.0,152.0 525.4,163.2" stroke="#e0200f" stroke-width="1.5"/>
<path d="M371.4,141.7 397.7,150.1 411.8,148.4 417.9,147.4 422.0,147.3 436.4,145.9 446.3,144.1 449.2,139.5 450.5,143.1 450.8,143.3 454.0,142.7 456.9,142.1 459.5,141.2 461.1,140.6 466.2,137.8 470.7,136.3 473.2,135.7 475.2,135.6 477.4,135.7 483.5,137.0 485.4,137.6 488.0,138.7 497.6,143.7 502.4,147.0 506.8,151.1 510.4,155.4 514.8,161.8 520.6,171.6 525.4,180.3" stroke="#111111" stroke-width="1.5"/>
<path d="M371.4,154.6 397.7,201.2 397.7,202.0 400.6,201.9 401.9,201.6 403.1,200.7 404.1,199.2 405.1,196.7 406.0,193.2 409.9,175.8 410.2,177.7 412.4,169.1 414.3,163.1 416.6,158.0 417.5,156.2 418.8,154.4 420.4,152.7 423.3,150.3 425.2,149.1 427.8,147.9 432.3,146.5 446.3,143.4 449.2,138.8 450.5,142.4 450.8,142.6 455.9,141.6 459.1,140.7 461.1,139.9 465.9,137.2 470.4,135.7 473.2,135.0 475.8,134.9 479.6,135.4 484.8,136.6 488.0,138.0 495.0,141.5 498.8,143.7 502.4,146.3 505.9,149.4 508.8,152.6 512.3,157.3 515.8,162.7 520.9,171.4 525.4,179.6" stroke="#2a6fdc" stroke-width="1.5"/>
<path d="M371.4,155.4 397.7,202.0 402.2,201.9 406.0,201.3 407.6,200.8 410.2,199.4 410.5,199.5 410.8,200.0 411.1,200.1 411.5,200.0 412.4,198.8 414.7,194.5 416.3,192.5 417.2,190.8 417.9,190.2 418.8,190.5 421.1,192.5 421.4,192.6 421.7,192.4 422.3,191.1 424.3,184.8 427.5,172.7 429.1,167.3 431.0,162.2 432.9,158.1 435.5,154.2 438.7,150.8 442.2,148.2 446.3,146.2 449.2,141.2 450.5,144.6 450.8,144.8 456.6,143.6 459.5,142.7 461.4,142.0 465.6,139.8 469.1,138.7 472.6,137.9 475.2,137.8 479.6,138.3 485.1,139.4 488.3,140.6 496.0,144.3 499.8,146.5 503.0,148.7 506.5,151.9 509.1,154.7 512.6,159.4 515.8,164.2 520.9,172.7 525.4,180.7" stroke="#55d040" stroke-width="1.5"/>
<path d="M371.4,166.3 397.7,202.0 402.2,201.9 406.0,201.3 407.6,200.8 410.2,199.4 410.5,199.5 410.8,200.0 411.1,200.1 412.1,199.3 414.7,194.5 416.3,192.5 417.2,190.8 417.9,190.2 418.5,190.3 419.1,190.9 420.1,191.9 421.4,193.9 421.7,194.1 422.0,194.0 423.3,192.5 425.5,191.3 429.1,188.2 431.0,187.0 434.5,185.5 435.8,184.2 436.7,182.4 437.7,179.6 440.9,167.2 442.8,161.0 444.4,157.1 446.7,153.0 449.2,146.4 450.5,149.0 450.8,151.4 452.4,149.8 454.7,148.1 460.7,144.8 466.2,141.6 470.4,139.9 472.9,139.1 475.2,138.8 478.0,138.9 481.9,139.5 485.1,140.2 487.6,141.2 492.8,143.4 496.6,145.3 499.8,147.1 502.7,149.1 505.2,151.3 509.1,155.3 514.2,162.2 520.3,172.1 525.4,181.1" stroke="#e0200f" stroke-width="1.5"/>
<path d="M371.4,164.8 397.7,168.0 411.5,166.2 417.9,164.3 422.0,164.5 430.0,163.0 437.7,161.9 446.3,160.1 449.2,156.1 450.5,159.3 450.8,159.5 455.9,158.8 459.1,158.1 461.1,157.5 465.9,155.3 472.3,153.6 475.5,153.4 480.3,154.1 483.8,154.9 486.0,155.7 495.3,160.3 501.1,163.9 505.9,168.0 509.4,172.0 514.5,179.3 520.6,189.5 525.4,198.2" stroke="#111111" stroke-width="1.5"/>
<path d="M371.4,177.7 397.7,219.0 397.7,219.8 400.6,219.3 401.9,218.8 403.1,217.6 404.1,215.9 405.1,213.2 406.0,209.7 409.9,192.5 410.2,194.1 414.3,179.5 416.6,174.2 418.2,171.4 419.8,169.9 421.7,168.6 423.9,166.7 426.8,165.0 429.1,163.9 433.5,162.5 446.3,159.6 449.2,155.4 450.5,158.7 450.8,158.9 455.9,158.2 459.5,157.4 461.4,156.7 465.9,154.6 470.7,153.2 473.6,152.7 476.1,152.7 480.0,153.4 485.1,154.7 488.3,156.0 495.6,159.8 499.5,162.1 503.0,164.7 506.5,168.0 509.1,170.9 512.6,175.7 515.8,180.6 520.9,189.4 525.4,197.6" stroke="#2a6fdc" stroke-width="1.5"/>
<path d="M371.4,178.5 397.7,219.8 400.6,219.4 402.2,219.0 405.7,217.1 407.3,215.7 410.2,211.6 410.5,211.7 410.8,212.9 411.1,213.2 412.1,211.1 414.3,202.6 417.5,195.3 417.9,195.0 418.5,195.2 420.1,197.1 421.4,199.6 421.7,199.7 422.0,199.4 425.2,191.3 429.4,179.5 431.3,175.4 433.5,171.7 436.1,168.6 439.3,165.7 442.5,163.7 446.3,162.0 449.2,157.6 450.5,160.7 450.8,160.8 459.5,159.4 461.1,158.9 465.9,157.0 470.7,155.9 473.9,155.5 477.4,155.8 483.5,156.9 485.7,157.5 488.9,158.9 496.6,162.5 500.4,164.8 503.6,167.2 506.8,170.1 509.4,173.0 513.6,178.7 516.1,182.6 521.2,191.2 525.4,198.7" stroke="#55d040" stroke-width="1.5"/>
<path d="M371.4,189.4 393.0,214.5 397.7,219.8 401.9,219.1 403.8,218.3 406.7,216.4 407.6,215.3 410.2,211.6 410.5,211.7 410.8,212.9 411.1,213.2 412.1,211.1 413.4,205.8 414.7,201.7 417.2,196.0 417.9,195.0 418.5,195.2 419.1,195.9 420.1,197.3 421.4,200.2 421.7,200.5 422.0,200.4 423.3,198.0 425.5,196.0 427.5,193.4 429.4,191.2 431.6,189.5 435.5,187.5 436.7,186.4 438.7,183.3 443.1,173.2 444.7,170.4 446.7,167.6 449.2,162.2 450.5,164.4 450.8,166.4 452.4,165.1 454.0,164.2 460.7,161.4 465.6,159.0 472.3,156.9 474.2,156.6 476.4,156.6 479.3,157.0 483.8,157.8 487.6,159.1 494.0,162.0 497.9,163.9 501.4,166.1 504.6,168.6 506.8,170.7 508.8,172.8 513.9,179.7 520.0,189.4 525.4,199.1" stroke="#e0200f" stroke-width="1.5"/>
<path d="M371.4,187.9 397.7,186.0 406.3,184.5 410.2,183.5 411.1,183.6 412.4,183.0 414.7,181.2 417.9,179.1 418.8,179.2 421.4,180.3 422.0,180.3 423.3,179.6 425.5,178.9 429.1,177.3 431.6,176.4 442.2,173.8 446.3,173.0 449.2,170.0 450.5,172.4 450.8,172.6 459.8,172.5 465.9,171.3 472.0,170.8 474.2,170.8 476.8,171.1 484.1,172.9 488.3,174.6 494.7,177.9 498.2,179.9 501.7,182.3 504.9,185.0 507.2,187.3 509.1,189.5 514.2,196.7 520.3,206.9 525.4,216.2" stroke="#111111" stroke-width="1.5"/>
<path d="M371.4,200.8 393.0,230.5 395.7,234.0 397.7,236.2 397.7,237.0 400.3,235.9 401.5,234.9 402.8,233.1 403.8,230.9 406.0,223.6 409.9,206.8 410.2,207.9 410.5,207.0 410.8,206.9 411.1,206.1 413.4,196.4 414.3,193.0 417.2,185.9 418.2,184.5 420.1,183.8 421.1,184.0 421.7,183.8 423.6,181.8 427.1,179.1 429.4,177.6 431.6,176.5 434.2,175.6 440.9,173.8 446.3,172.6 449.2,169.6 450.5,172.0 450.8,172.2 459.5,172.0 466.2,170.6 472.3,170.1 474.8,170.1 478.0,170.7 483.5,172.0 487.0,173.3 494.0,176.8 497.6,178.8 501.1,181.1 504.3,183.7 506.8,186.2 508.8,188.4 513.9,195.5 520.0,205.6 525.4,215.5" stroke="#2a6fdc" stroke-width="1.5"/>
<path d="M371.4,201.6 393.0,231.3 395.7,234.8 397.7,237.0 399.9,236.0 401.2,235.3 402.2,234.4 403.5,232.8 407.0,226.9 409.2,220.6 410.2,218.6 410.5,218.6 410.8,220.7 411.1,221.2 412.1,217.6 413.4,210.0 414.3,205.8 417.5,197.2 417.9,196.8 418.2,196.8 418.8,197.3 420.1,199.2 421.4,202.5 421.7,202.8 422.0,202.5 423.3,199.3 425.5,195.7 427.8,190.7 429.7,187.1 432.6,183.0 435.5,180.1 438.0,178.2 440.9,176.4 443.5,175.3 446.3,174.3 449.2,171.2 450.5,173.4 450.8,173.6 460.1,173.5 466.2,172.7 473.6,172.8 483.5,174.7 487.0,175.9 497.2,180.8 500.8,183.0 504.0,185.4 506.5,187.7 508.4,189.8 513.9,197.1 520.0,206.9 525.4,216.6" stroke="#55d040" stroke-width="1.5"/>
<path d="M371.4,212.5 393.0,233.2 395.7,235.6 397.7,237.0 399.9,236.0 401.2,235.3 402.2,234.4 403.5,232.8 407.0,226.9 409.2,220.6 410.2,218.6 410.5,218.6 410.8,220.7 411.1,221.2 412.1,217.6 413.4,210.0 414.3,205.8 417.2,197.9 417.9,196.8 418.5,197.0 419.1,197.7 420.1,199.3 421.4,202.7 421.7,203.0 422.0,202.9 423.3,200.0 425.5,197.7 427.5,194.7 429.4,192.3 431.9,190.3 436.4,187.9 438.3,186.5 443.5,180.8 446.7,177.9 449.2,174.4 450.5,176.0 450.8,177.2 453.7,176.2 460.7,175.3 465.2,174.5 473.9,173.9 476.4,174.1 480.0,174.8 484.1,175.7 486.7,176.6 497.2,181.5 500.8,183.6 504.0,186.0 506.5,188.3 508.4,190.4 513.9,197.6 520.0,207.4 525.4,217.0" stroke="#e0200f" stroke-width="1.5"/>
<path d="M371.4,211.0 397.7,203.8 403.5,202.6 407.0,201.4 410.2,199.3 410.5,199.3 410.8,199.7 411.1,199.8 412.1,198.8 414.7,193.9 416.3,191.8 417.2,190.2 417.9,189.5 418.8,189.8 420.1,190.9 421.4,192.6 421.7,192.7 422.0,192.6 423.3,191.1 425.5,189.8 429.1,186.6 431.6,185.0 434.5,183.9 440.9,181.9 446.3,180.8 449.2,179.2 450.5,180.6 450.8,180.7 453.4,181.0 465.2,183.8 484.8,190.9 487.6,192.2 495.0,196.0 500.8,199.5 504.0,202.1 506.8,204.9 508.8,207.1 511.3,210.5 514.2,214.6 517.1,219.3 525.4,234.1" stroke="#111111" stroke-width="1.5"/>
<path d="M371.4,223.9 391.6,247.5 394.3,250.3 395.7,251.5 397.0,252.1 397.7,252.1 397.7,252.7 400.9,248.5 401.9,246.6 402.8,243.9 406.7,230.3 409.5,217.5 409.9,216.5 410.2,216.7 410.5,216.3 410.8,217.4 411.1,217.2 413.4,205.6 414.3,201.6 417.5,193.0 418.2,192.4 418.8,192.5 420.1,193.3 421.1,194.6 421.7,195.0 422.3,194.3 423.3,192.6 425.5,190.6 428.1,187.8 429.4,186.6 431.3,185.3 434.2,183.9 440.3,181.9 442.8,181.2 446.3,180.6 449.2,179.0 450.5,180.3 450.8,180.5 453.4,180.7 465.6,183.5 484.8,190.2 487.6,191.5 495.0,195.3 500.8,198.8 504.0,201.4 506.8,204.2 508.8,206.4 511.3,209.8 514.2,213.9 517.1,218.6 525.4,233.4" stroke="#2a6fdc" stroke-width="1.5"/>
<path d="M371.4,224.7 384.2,239.8 392.3,249.0 395.7,252.2 397.0,252.8 397.7,252.7 400.6,249.1 402.2,246.0 406.7,233.6 409.2,223.9 410.2,221.4 410.5,221.5 410.8,224.0 411.1,224.7 412.1,220.2 413.4,211.5 414.3,206.9 417.5,197.7 417.9,197.3 418.2,197.3 419.1,198.3 420.1,199.9 421.1,202.7 421.7,203.8 422.0,203.6 422.3,202.9 423.3,200.5 425.5,197.6 428.7,192.0 430.3,190.0 432.3,188.0 435.1,185.9 439.3,183.7 442.5,182.4 446.3,181.4 449.2,179.8 450.5,181.1 453.7,181.5 465.2,184.8 478.4,190.7 486.0,193.3 496.0,198.0 501.4,201.3 504.3,203.6 507.2,206.3 511.6,211.8 517.1,220.0 525.4,234.5" stroke="#55d040" stroke-width="1.5"/>
<path d="M371.4,235.6 384.2,245.4 392.3,251.2 394.3,252.4 395.7,253.0 397.0,253.1 397.7,252.7 400.6,249.1 402.2,246.0 406.7,233.6 409.2,223.9 410.2,221.4 410.5,221.5 410.8,224.0 411.1,224.7 412.1,220.2 413.4,211.5 414.3,206.9 417.5,197.7 417.9,197.3 418.2,197.3 419.1,198.3 420.1,199.9 421.1,202.7 421.7,203.8 422.0,203.7 422.3,203.1 423.6,200.2 425.5,198.2 428.7,193.4 430.7,191.5 432.9,189.9 438.0,187.6 442.5,184.9 446.7,183.0 449.2,181.4 450.5,182.2 450.8,182.8 453.1,182.7 455.9,183.2 462.4,184.9 465.2,185.8 470.7,188.4 479.0,191.7 487.0,194.5 496.3,198.9 501.4,202.0 504.3,204.2 507.2,206.9 511.6,212.4 517.1,220.5 525.4,234.9" stroke="#e0200f" stroke-width="1.5"/>
<path d="M371.4,234.1 393.0,223.9 397.7,221.5 400.6,220.7 402.2,220.0 404.1,218.8 407.0,216.3 410.2,211.5 410.5,211.5 410.8,212.7 411.1,213.0 412.1,210.8 413.4,205.5 414.7,201.4 417.2,195.7 417.9,194.7 418.5,194.9 419.5,196.0 420.1,196.8 421.4,199.6 421.7,199.9 422.3,199.3 423.3,197.4 425.5,195.4 428.7,191.3 430.0,190.1 431.9,188.7 434.8,187.4 441.2,185.2 449.2,183.5 450.5,184.1 453.1,184.6 456.6,186.0 459.8,187.5 463.0,189.3 466.8,192.4 473.6,199.5 479.6,205.2 481.9,206.7 497.6,215.4 501.1,217.7 504.3,220.3 506.8,222.8 508.8,225.0 513.9,232.1 520.0,242.2 525.4,252.0" stroke="#111111" stroke-width="1.5"/>
<path d="M371.4,247.0 382.9,258.1 390.3,264.6 393.0,266.5 394.3,267.1 395.7,267.1 396.4,266.7 397.0,265.9 397.7,264.5 397.7,265.0 401.5,254.5 407.0,233.4 408.9,224.5 409.9,221.1 410.5,220.6 410.8,222.8 411.1,223.1 412.1,218.4 413.4,209.9 414.3,205.4 417.5,196.4 417.9,195.9 418.2,195.9 418.8,196.3 420.1,197.9 421.1,200.1 421.7,200.9 422.3,200.1 423.3,198.0 425.5,195.7 428.4,191.8 429.7,190.4 431.9,188.8 434.8,187.3 440.9,185.2 449.2,183.4 450.5,184.0 453.1,184.5 456.6,185.9 459.8,187.4 463.0,189.2 466.8,192.2 473.2,198.8 479.6,204.7 481.9,206.1 486.0,208.2 497.6,214.7 501.1,217.0 504.3,219.6 506.8,222.1 508.8,224.3 513.9,231.4 520.0,241.5 525.4,251.3" stroke="#2a6fdc" stroke-width="1.5"/>
<path d="M371.4,247.8 382.9,258.9 390.3,265.3 393.0,267.2 394.3,267.7 395.7,267.7 396.4,267.3 397.0,266.4 397.7,265.0 401.5,254.6 404.7,242.2 407.0,234.7 409.5,224.0 410.2,222.3 410.5,222.4 410.8,225.2 411.1,225.8 412.1,221.1 413.4,211.9 414.3,207.2 417.5,197.9 417.9,197.5 418.2,197.5 419.1,198.5 420.1,200.1 421.1,202.9 421.7,204.1 422.0,203.9 422.3,203.3 423.3,200.8 425.5,198.2 428.4,193.5 430.0,191.6 432.3,189.7 435.5,187.9 440.9,185.6 443.1,185.0 449.2,183.7 450.5,184.3 453.1,184.8 456.3,186.0 459.5,187.6 462.7,189.5 464.6,190.9 466.8,193.0 475.8,203.3 480.0,207.3 482.5,208.9 498.5,217.4 502.0,219.7 505.2,222.4 509.1,226.4 514.2,233.4 520.3,243.3 525.4,252.4" stroke="#55d040" stroke-width="1.5"/>
<path d="M371.4,258.7 382.9,264.9 390.3,268.1 393.0,268.9 394.3,268.9 395.7,268.3 396.4,267.6 397.7,265.0 401.5,254.6 404.7,242.2 407.0,234.7 409.5,224.0 410.2,222.3 410.5,222.4 410.8,225.2 411.1,225.8 412.1,221.1 413.4,211.9 414.3,207.2 417.5,197.9 417.9,197.5 418.2,197.5 419.1,198.5 420.1,200.1 421.1,202.9 421.7,204.1 422.0,203.9 422.3,203.3 423.3,200.9 425.5,198.4 428.4,193.9 429.7,192.5 431.6,190.8 434.5,189.2 441.9,186.2 445.4,185.1 449.2,184.3 450.8,184.9 453.1,185.3 456.3,186.4 459.5,188.0 462.7,189.9 464.6,191.4 466.8,193.5 475.2,203.2 478.4,206.6 480.0,208.0 482.5,209.7 498.5,218.1 502.0,220.4 505.2,223.0 509.1,227.0 514.2,233.9 520.3,243.8 525.4,252.8" stroke="#e0200f" stroke-width="1.5"/>
<path d="M371.4,257.2 393.7,242.1 396.4,240.0 397.7,238.7 400.9,236.6 402.2,235.3 403.5,233.4 406.7,227.8 409.2,220.6 410.2,218.5 410.5,218.6 410.8,220.6 411.1,221.1 412.1,217.5 413.4,209.9 414.3,205.7 417.2,197.8 417.9,196.7 418.5,196.9 419.5,198.1 420.1,199.1 421.4,202.5 421.7,202.8 422.0,202.6 422.3,202.1 423.3,199.8 425.5,197.5 428.4,193.3 429.7,191.8 431.9,190.1 435.1,188.5 441.5,186.2 445.7,185.3 449.2,185.0 453.1,185.9 457.5,188.0 462.0,190.9 464.9,193.7 467.2,196.4 468.8,198.8 473.6,207.2 479.0,217.2 481.2,220.5 483.8,223.3 488.6,227.4 491.5,229.5 497.9,233.4 501.1,235.6 504.3,238.2 507.5,241.4 510.7,245.4 515.2,252.0 520.6,261.2 525.4,270.0" stroke="#111111" stroke-width="1.5"/>
<path d="M371.4,270.0 378.8,275.6 382.2,277.8 384.9,279.3 388.9,280.8 391.0,281.2 393.0,281.2 394.3,280.4 395.7,278.4 397.0,274.6 398.7,267.9 401.2,258.8 404.4,244.5 407.0,235.0 409.5,223.7 410.2,222.1 410.5,222.1 410.8,224.8 411.1,225.3 412.1,220.5 413.4,211.4 414.3,206.8 417.5,197.5 417.9,197.1 418.2,197.0 419.1,198.0 420.1,199.5 421.1,202.1 421.7,203.2 422.0,203.0 422.3,202.4 423.3,200.1 425.5,197.6 428.4,193.3 429.7,191.9 431.9,190.1 435.1,188.4 441.2,186.3 445.4,185.3 448.9,185.0 453.1,185.8 457.5,187.9 462.0,190.9 464.9,193.6 466.8,195.9 468.4,198.2 473.2,206.4 479.0,216.8 480.6,219.2 482.2,221.1 485.1,223.9 489.9,227.7 498.5,233.1 502.0,235.6 505.9,239.0 508.8,242.2 512.3,247.0 515.8,252.3 520.9,261.1 525.4,269.3" stroke="#2a6fdc" stroke-width="1.5"/>
<path d="M371.4,270.8 378.8,276.4 382.2,278.5 384.9,280.0 388.9,281.4 391.0,281.8 393.0,281.7 394.3,280.9 395.7,278.8 397.0,274.9 398.3,269.1 401.2,258.8 404.4,244.6 407.0,235.4 409.5,224.3 410.2,222.6 410.5,222.7 410.8,225.5 411.1,226.2 412.1,221.3 413.4,212.0 414.3,207.3 417.5,197.9 417.9,197.5 418.2,197.5 419.1,198.5 420.1,200.2 421.1,203.0 421.7,204.2 422.0,204.0 422.3,203.4 423.3,200.9 425.5,198.4 428.4,193.8 429.7,192.3 431.9,190.4 435.1,188.7 441.2,186.4 445.4,185.4 448.9,185.1 452.7,185.8 457.2,187.9 461.7,190.8 464.6,193.5 466.8,196.2 468.8,199.1 473.2,207.2 479.3,218.9 481.9,222.7 484.4,225.5 489.2,229.6 491.8,231.4 501.1,236.9 504.3,239.4 507.5,242.5 510.7,246.4 515.2,252.8 520.6,261.8 525.4,270.4" stroke="#55d040" stroke-width="1.5"/>
<path d="M371.4,281.6 378.1,283.8 381.5,284.4 384.2,284.6 388.9,284.2 391.0,283.8 393.0,282.9 394.3,281.7 395.7,279.2 397.0,275.0 398.3,269.1 401.2,258.8 404.4,244.6 407.0,235.4 409.5,224.3 410.2,222.6 410.5,222.7 410.8,225.5 411.1,226.2 412.1,221.3 413.4,212.0 414.3,207.3 417.5,197.9 417.9,197.5 418.2,197.5 419.1,198.5 420.1,200.2 421.1,203.0 421.7,204.2 422.0,204.0 422.3,203.4 423.3,200.9 425.5,198.4 428.4,194.0 429.7,192.5 431.6,190.9 434.8,189.1 441.2,186.7 445.1,185.7 447.9,185.3 449.2,185.3 452.4,185.9 456.3,187.5 458.8,188.9 461.1,190.4 462.7,191.7 464.6,193.6 466.8,196.4 468.8,199.3 473.6,208.1 479.3,219.4 481.9,223.3 484.4,226.1 489.2,230.3 491.8,232.1 498.2,235.8 501.4,237.8 504.9,240.6 507.8,243.4 511.3,247.8 515.5,253.8 520.9,262.8 525.4,270.8" stroke="#e0200f" stroke-width="1.5"/>
<path d="M371.4,280.1 380.8,271.7 393.7,259.9 396.4,256.6 397.7,254.2 400.9,249.3 402.5,245.6 406.7,233.6 408.9,225.1 409.9,222.1 410.2,221.4 410.5,221.5 410.8,224.0 411.1,224.6 412.1,220.2 413.4,211.4 414.3,206.9 417.2,198.4 417.9,197.3 418.5,197.5 419.8,199.3 421.4,203.4 421.7,203.8 422.0,203.6 422.3,203.0 423.3,200.6 425.5,198.2 428.4,193.8 429.7,192.3 431.9,190.5 435.1,188.8 441.5,186.5 446.0,185.6 448.9,185.4 453.1,186.3 458.2,188.8 462.4,191.9 464.0,193.5 465.9,195.8 468.8,200.4 472.9,209.0 476.1,216.6 479.6,226.1 481.9,231.4 484.1,235.7 487.0,240.4 489.6,244.0 492.1,246.8 494.7,248.9 503.0,255.0 506.2,258.0 508.8,260.8 512.3,265.6 515.8,271.0 520.9,279.7 525.4,287.9" stroke="#111111" stroke-width="1.5"/>
<path d="M371.4,292.8 375.4,294.8 378.1,295.8 380.8,296.2 383.5,296.1 384.9,295.7 388.9,293.8 391.0,292.6 393.0,290.6 394.3,288.3 396.4,281.8 398.7,270.0 401.2,259.9 404.4,245.0 407.0,235.5 409.2,225.3 410.2,222.5 410.5,222.6 410.8,225.4 411.1,226.0 412.1,221.1 413.4,211.9 414.3,207.2 417.5,197.8 417.9,197.4 418.2,197.4 419.1,198.4 420.1,200.0 421.1,202.8 421.7,203.9 422.0,203.7 422.3,203.1 423.3,200.7 425.5,198.2 428.4,193.8 429.7,192.3 431.6,190.7 434.8,189.0 440.9,186.7 444.7,185.8 447.9,185.4 449.5,185.5 452.7,186.1 457.5,188.4 460.1,190.1 462.4,191.9 464.0,193.5 465.9,195.8 468.4,199.8 472.0,206.9 475.8,215.7 479.6,225.9 481.2,229.7 483.5,234.2 486.4,238.9 489.2,243.0 491.8,245.9 494.4,248.0 503.0,254.3 506.2,257.3 508.8,260.1 512.3,264.9 515.8,270.3 520.9,279.0 525.4,287.2" stroke="#2a6fdc" stroke-width="1.5"/>
<path d="M371.4,293.6 375.4,295.6 378.1,296.5 380.8,296.9 383.5,296.7 384.9,296.2 388.9,294.2 391.0,292.9 393.0,290.8 394.3,288.5 396.4,281.9 398.7,270.0 401.2,259.9 404.4,245.0 407.0,235.6 409.2,225.5 410.2,222.7 410.5,222.8 410.8,225.6 411.1,226.3 412.1,221.4 413.4,212.1 414.3,207.3 417.5,197.9 417.9,197.5 418.2,197.5 419.1,198.5 420.1,200.2 421.1,203.0 421.7,204.2 422.0,204.0 422.3,203.4 423.3,200.9 425.5,198.4 428.4,193.9 429.7,192.4 431.6,190.8 434.8,189.0 440.9,186.8 444.7,185.8 447.9,185.5 449.5,185.5 452.7,186.2 457.5,188.5 460.1,190.1 462.4,191.9 464.0,193.5 465.9,195.9 468.8,200.5 472.9,209.2 476.8,218.6 480.3,228.4 482.5,233.6 484.4,237.4 487.6,242.7 490.2,246.2 492.4,248.6 495.0,250.7 503.3,256.6 506.5,259.4 508.8,261.9 512.3,266.5 515.8,271.7 520.9,280.3 525.4,288.3" stroke="#55d040" stroke-width="1.5"/>
<path d="M371.4,304.1 374.8,304.2 377.5,303.8 380.2,302.7 382.9,301.2 384.9,299.6 391.0,294.0 393.0,291.4 394.3,288.8 396.4,282.0 398.7,270.0 401.2,259.9 404.4,245.0 407.0,235.6 409.2,225.5 410.2,222.7 410.5,222.8 410.8,225.6 411.1,226.3 412.1,221.4 413.4,212.1 414.3,207.3 417.5,197.9 417.9,197.5 418.2,197.5 419.1,198.5 420.1,200.2 421.1,203.0 421.7,204.2 422.0,204.0 422.3,203.4 423.3,200.9 425.5,198.4 428.4,194.0 429.7,192.5 431.6,190.9 434.8,189.1 440.6,186.9 442.8,186.3 447.0,185.6 449.2,185.5 452.4,186.1 456.6,188.0 459.1,189.5 461.7,191.4 463.6,193.2 465.6,195.5 468.4,200.0 472.0,207.1 475.8,216.2 479.6,227.0 481.9,232.5 484.4,237.8 488.0,243.7 490.2,246.9 492.8,249.6 495.0,251.3 503.3,257.2 506.5,260.0 508.8,262.5 512.3,267.1 515.8,272.2 520.9,280.7 525.4,288.7" stroke="#e0200f" stroke-width="1.5"/>
<path d="M371.4,254.1 397.7,274.7 414.3,272.7 434.5,271.4 439.9,270.7 446.3,269.4 449.2,264.6 450.5,268.4 450.8,268.6 455.3,267.6 458.5,266.6 461.1,265.5 466.2,262.6 470.7,260.9 473.6,260.3 475.5,260.2 478.0,260.4 484.8,261.9 487.6,263.1 492.8,265.6 498.2,268.6 502.7,271.8 506.8,275.6 510.4,279.9 514.8,286.4 520.6,296.1 525.4,304.9" stroke="#111111" stroke-width="1.5"/>
<path d="M371.4,267.0 397.7,325.9 397.7,326.7 400.9,326.7 402.2,326.4 403.1,325.7 404.1,324.3 405.1,321.8 406.0,318.3 409.9,300.8 410.2,302.9 412.1,295.2 414.0,289.2 415.6,285.2 417.5,281.6 419.5,278.8 421.7,276.5 424.9,274.3 429.1,272.5 432.6,271.6 446.3,268.7 449.2,263.9 450.5,267.6 450.8,267.9 455.3,266.9 458.5,265.9 461.1,264.8 466.2,261.9 470.4,260.3 472.9,259.7 475.2,259.5 478.0,259.7 483.5,260.8 485.7,261.5 488.9,263.0 496.6,266.9 500.1,269.1 503.3,271.6 505.9,273.9 508.1,276.3 513.6,283.7 519.0,292.6 525.4,304.2" stroke="#2a6fdc" stroke-width="1.5"/>
<path d="M371.4,267.8 397.7,326.7 407.6,327.0 418.5,327.7 419.8,327.5 420.7,326.8 421.4,325.9 422.0,324.4 423.0,321.2 426.8,303.3 428.7,295.6 430.7,289.6 432.6,285.0 435.1,280.6 438.3,276.8 440.3,275.1 442.2,273.8 446.3,271.7 449.2,266.5 450.5,270.0 450.8,270.2 456.3,268.9 459.5,267.8 461.4,267.0 465.6,264.7 468.8,263.6 472.3,262.6 474.8,262.4 479.3,262.8 484.8,263.8 488.0,265.0 495.6,268.6 499.5,270.8 503.0,273.3 506.5,276.4 509.1,279.2 512.6,283.9 515.8,288.7 520.9,297.2 525.4,305.3" stroke="#55d040" stroke-width="1.5"/>
<path d="M371.4,278.7 397.7,326.7 408.3,327.0 417.9,327.7 426.8,329.4 432.9,331.1 433.5,331.1 434.2,330.9 435.1,329.4 436.1,325.8 439.6,302.8 441.9,291.7 443.8,285.3 445.1,282.2 446.7,279.0 449.2,271.9 450.5,274.7 450.8,277.4 452.4,275.5 454.7,273.7 460.7,270.0 464.9,267.1 470.4,264.6 473.9,263.6 476.4,263.4 479.3,263.7 483.8,264.4 486.4,265.2 493.1,268.1 496.9,270.0 500.4,272.1 503.6,274.4 506.2,276.7 508.1,278.7 513.6,285.8 519.0,294.4 525.4,305.7" stroke="#e0200f" stroke-width="1.5"/>
<path d="M371.4,277.2 397.7,292.6 416.9,290.4 436.4,289.1 446.3,287.3 449.2,282.5 450.5,286.3 450.8,286.5 455.3,285.5 458.5,284.6 461.1,283.5 466.2,280.5 470.7,278.9 473.2,278.2 475.2,278.1 477.7,278.3 484.1,279.6 488.6,281.4 494.4,284.3 497.9,286.3 502.7,289.7 506.8,293.5 510.4,297.8 514.8,304.3 520.6,314.0 525.4,322.8" stroke="#111111" stroke-width="1.5"/>
<path d="M371.4,290.1 397.7,343.8 397.7,344.6 400.9,344.6 402.2,344.3 403.1,343.6 404.1,342.2 405.1,339.7 406.0,336.2 409.9,318.7 410.2,320.8 412.1,313.1 414.0,307.1 415.6,303.2 417.5,299.5 419.5,296.8 421.7,294.4 424.9,292.2 429.1,290.4 432.6,289.5 446.3,286.6 449.2,281.9 450.5,285.6 450.8,285.8 455.3,284.8 458.5,283.9 461.1,282.8 466.2,279.8 470.4,278.3 472.9,277.6 475.2,277.4 478.0,277.6 483.5,278.7 485.7,279.5 488.9,280.9 496.6,284.9 500.1,287.1 503.3,289.5 505.9,291.9 508.1,294.3 513.6,301.7 519.0,310.6 525.4,322.1" stroke="#2a6fdc" stroke-width="1.5"/>
<path d="M371.4,290.9 397.7,344.6 412.1,345.1 418.8,345.0 419.8,344.9 420.7,344.3 421.7,342.8 423.0,338.9 426.8,321.1 428.7,313.4 430.7,307.4 432.6,302.9 435.1,298.4 438.3,294.7 440.3,293.0 442.2,291.7 446.3,289.6 449.2,284.4 450.5,287.9 450.8,288.1 456.3,286.8 459.5,285.7 461.4,284.9 465.6,282.6 468.8,281.5 472.3,280.5 474.8,280.3 479.3,280.7 484.8,281.8 488.0,283.0 495.6,286.6 499.5,288.7 503.0,291.2 506.5,294.3 509.1,297.2 512.6,301.9 515.8,306.6 520.9,315.2 525.4,323.2" stroke="#55d040" stroke-width="1.5"/>
<path d="M371.4,301.8 397.7,344.6 412.1,345.1 417.9,345.0 421.7,345.9 428.4,346.8 432.9,347.8 433.5,347.8 434.2,347.6 435.1,346.2 436.1,342.8 439.9,318.7 442.2,308.3 444.1,302.3 446.7,296.9 449.2,289.8 450.5,292.6 450.8,295.2 452.4,293.4 454.7,291.6 460.7,287.9 464.9,285.1 470.4,282.5 473.9,281.5 476.4,281.4 479.3,281.6 483.8,282.4 486.4,283.1 493.1,286.1 496.9,287.9 500.4,290.0 503.6,292.4 506.2,294.6 508.1,296.6 513.6,303.7 519.0,312.4 525.4,323.6" stroke="#e0200f" stroke-width="1.5"/>
<path d="M371.4,300.3 397.7,310.5 417.5,308.3 436.4,307.0 446.3,305.2 449.2,300.4 450.5,304.1 450.8,304.4 455.3,303.4 458.5,302.4 461.1,301.3 466.2,298.4 470.7,296.8 473.2,296.2 475.2,296.0 477.4,296.2 483.8,297.4 488.3,299.2 494.4,302.3 497.9,304.2 502.7,307.6 506.8,311.5 510.4,315.8 514.8,322.3 520.6,332.0 525.4,340.7" stroke="#111111" stroke-width="1.5"/>
<path d="M371.4,313.2 397.7,361.7 397.7,362.5 400.9,362.5 402.2,362.2 403.1,361.5 404.1,360.1 405.1,357.6 406.0,354.1 409.9,336.6 410.2,338.7 412.1,331.0 414.0,325.0 415.6,321.0 417.5,317.3 419.5,314.6 421.7,312.3 424.9,310.1 429.1,308.3 432.6,307.4 446.3,304.5 449.2,299.7 450.5,303.4 450.8,303.6 455.3,302.7 458.5,301.7 461.1,300.6 466.2,297.7 470.4,296.2 472.9,295.5 475.2,295.3 478.0,295.6 483.5,296.7 485.7,297.4 488.9,298.8 496.6,302.8 500.1,305.0 503.3,307.5 505.9,309.8 508.1,312.2 513.6,319.6 519.0,328.5 525.4,340.0" stroke="#2a6fdc" stroke-width="1.5"/>
<path d="M371.4,314.0 397.7,362.5 410.2,362.5 411.5,362.7 417.5,361.1 420.1,361.2 421.1,360.7 422.0,359.0 423.0,355.9 426.8,338.6 428.7,331.1 430.7,325.1 432.6,320.6 435.1,316.2 438.3,312.5 440.3,310.9 442.2,309.5 446.3,307.4 449.2,302.2 450.5,305.8 450.8,306.0 456.3,304.6 459.5,303.6 461.4,302.8 465.6,300.5 468.8,299.4 472.3,298.5 474.8,298.3 479.3,298.6 484.8,299.7 488.0,300.9 495.6,304.5 499.5,306.7 503.0,309.2 506.5,312.3 509.1,315.1 512.6,319.8 515.8,324.6 520.9,333.1 525.4,341.1" stroke="#55d040" stroke-width="1.5"/>
<path d="M371.4,324.9 397.7,362.5 410.2,362.5 411.5,362.7 417.9,361.1 419.1,361.4 421.4,362.5 422.0,362.6 429.4,362.1 433.5,362.1 434.2,361.9 434.8,361.3 435.5,360.0 436.1,357.9 437.1,353.2 440.3,334.3 442.5,324.8 444.1,320.0 446.7,314.7 449.2,307.7 450.5,310.4 450.8,313.0 452.4,311.2 454.7,309.4 466.2,302.3 470.4,300.4 472.9,299.6 475.2,299.3 478.4,299.4 485.1,300.6 487.6,301.6 493.1,304.0 496.6,305.7 499.8,307.5 502.7,309.5 505.2,311.7 509.1,315.7 514.2,322.6 520.3,332.5 525.4,341.5" stroke="#e0200f" stroke-width="1.5"/>
<path d="M371.4,323.4 397.7,328.5 417.9,326.0 432.3,325.0 438.0,324.4 446.3,322.8 449.2,318.1 450.5,321.8 450.8,322.0 455.6,321.0 458.8,320.1 461.1,319.1 465.9,316.4 472.3,314.3 474.2,314.0 476.4,314.0 482.2,315.0 484.4,315.6 487.0,316.5 496.6,321.4 501.7,324.8 506.5,329.1 510.0,333.3 514.8,340.2 520.6,349.9 525.4,358.7" stroke="#111111" stroke-width="1.5"/>
<path d="M371.4,336.3 397.7,379.6 397.7,380.4 400.9,380.3 402.2,380.0 403.5,378.9 404.4,377.1 406.0,371.8 409.9,354.4 410.2,356.4 412.4,347.7 414.3,341.8 416.9,336.1 419.1,332.7 420.7,331.0 423.3,328.8 425.2,327.7 427.8,326.5 432.3,325.2 446.3,322.1 449.2,317.5 450.5,321.1 450.8,321.3 455.6,320.4 459.1,319.3 461.1,318.4 465.6,315.8 470.4,314.1 473.2,313.4 475.8,313.3 479.6,313.7 484.8,315.0 488.0,316.3 494.7,319.7 498.8,322.1 502.4,324.6 505.9,327.7 508.8,330.9 512.3,335.7 515.8,341.0 520.9,349.8 525.4,358.0" stroke="#2a6fdc" stroke-width="1.5"/>
<path d="M371.4,337.1 397.7,380.4 406.3,380.2 410.2,379.4 411.1,379.8 412.4,379.1 414.7,376.7 417.9,374.0 418.5,374.1 420.7,375.1 421.4,374.9 422.3,373.1 423.3,369.8 428.7,348.1 430.7,342.3 432.6,338.0 435.1,333.7 438.3,330.0 440.3,328.4 442.2,327.1 446.3,325.0 449.2,319.9 450.5,323.4 450.8,323.6 456.6,322.3 459.5,321.4 461.4,320.6 465.6,318.3 468.8,317.3 472.3,316.4 474.8,316.2 479.3,316.6 484.8,317.6 488.0,318.8 495.6,322.4 499.5,324.6 503.0,327.1 506.5,330.2 509.1,333.0 512.6,337.7 515.8,342.5 520.9,351.0 525.4,359.1" stroke="#55d040" stroke-width="1.5"/>
<path d="M371.4,348.0 397.7,380.4 406.3,380.2 410.2,379.4 411.1,379.8 411.5,379.7 412.4,379.1 414.7,376.7 417.9,374.0 419.1,374.5 420.1,375.3 421.4,376.7 422.0,376.8 423.3,375.9 425.5,375.2 429.4,373.1 434.2,371.6 434.8,371.1 435.5,370.2 436.1,368.9 437.1,365.7 440.6,349.0 442.5,341.7 444.1,337.2 446.7,332.1 449.2,325.2 450.5,328.0 450.8,330.5 452.4,328.8 454.7,327.0 460.7,323.5 465.6,320.4 469.7,318.6 472.6,317.6 474.8,317.2 477.4,317.2 484.1,318.3 488.3,319.8 494.4,322.5 498.2,324.5 501.7,326.8 504.9,329.3 507.2,331.4 509.1,333.6 514.2,340.5 520.3,350.4 525.4,359.5" stroke="#e0200f" stroke-width="1.5"/>
<path d="M371.4,346.5 397.7,346.4 411.5,344.6 417.9,343.4 422.0,343.4 436.4,341.7 446.3,339.8 449.2,335.4 450.5,338.9 450.8,339.1 455.9,338.2 459.1,337.3 461.1,336.6 465.9,334.0 471.6,332.2 475.2,331.8 479.6,332.4 483.8,333.3 485.7,333.9 494.7,338.3 497.9,340.1 500.8,342.0 505.6,346.0 509.4,350.3 514.5,357.6 520.6,367.8 525.4,376.6" stroke="#111111" stroke-width="1.5"/>
<path d="M371.4,359.4 397.7,397.5 397.7,398.2 401.2,397.9 402.2,397.6 403.1,396.7 404.1,395.1 404.7,393.5 406.3,387.7 409.9,371.7 410.2,373.6 413.1,362.8 414.7,358.1 417.5,352.0 418.8,350.3 420.4,348.6 424.3,345.6 426.8,344.2 429.1,343.3 432.9,342.1 446.3,339.2 449.2,334.7 450.5,338.2 450.8,338.4 455.9,337.5 459.1,336.6 461.1,335.9 465.9,333.4 470.7,331.8 473.9,331.1 476.8,331.2 483.8,332.6 488.0,334.2 494.4,337.4 497.9,339.4 501.4,341.8 504.6,344.4 506.8,346.6 508.8,348.8 513.9,355.9 520.0,366.0 525.4,375.9" stroke="#2a6fdc" stroke-width="1.5"/>
<path d="M371.4,360.2 397.7,398.2 401.2,398.0 403.5,397.7 407.0,396.5 410.2,394.0 410.5,394.0 410.8,394.8 411.1,395.0 411.5,394.7 412.4,393.0 414.7,387.2 416.3,384.6 417.2,382.6 417.9,381.8 418.2,381.8 418.8,382.2 420.1,383.5 421.1,385.0 421.4,385.2 421.7,385.1 422.3,383.9 424.6,377.2 429.1,362.2 431.0,357.3 432.9,353.4 435.5,349.7 438.7,346.4 442.2,343.8 446.3,341.9 449.2,337.1 450.5,340.4 450.8,340.6 456.6,339.4 459.5,338.7 461.4,337.9 465.6,335.9 470.4,334.6 473.9,334.0 477.7,334.3 484.1,335.4 488.6,337.0 494.7,339.9 498.2,341.8 501.7,344.0 504.9,346.6 507.2,348.8 509.1,351.0 514.2,358.0 520.3,367.9 525.4,377.0" stroke="#55d040" stroke-width="1.5"/>
<path d="M371.4,371.1 397.7,398.2 402.2,397.9 406.0,396.9 407.6,396.1 410.2,394.0 410.5,394.0 410.8,394.8 411.1,395.0 411.5,394.7 412.4,393.0 414.7,387.2 416.3,384.6 417.2,382.6 417.9,381.8 418.5,382.0 419.1,382.6 420.1,383.8 421.4,386.2 421.7,386.4 422.0,386.3 423.3,384.5 425.5,382.9 429.1,379.1 431.3,377.6 434.8,375.8 436.1,374.6 437.1,373.0 438.0,370.6 441.5,359.3 443.1,355.0 444.7,351.6 446.7,348.3 449.2,342.1 450.5,344.6 450.8,346.9 452.4,345.4 454.3,344.0 460.7,340.7 465.6,337.9 472.3,335.5 474.2,335.1 476.4,335.1 479.3,335.3 483.8,336.1 487.6,337.4 494.0,340.3 497.9,342.3 501.4,344.5 504.6,347.0 506.8,349.0 508.8,351.1 513.9,358.0 520.0,367.8 525.4,377.4" stroke="#e0200f" stroke-width="1.5"/>
<path d="M371.4,369.6 397.7,364.3 406.3,363.1 410.2,362.3 411.5,362.3 417.9,359.7 422.0,360.2 430.7,358.0 446.3,354.9 449.2,351.2 450.5,354.2 450.8,354.4 456.3,353.9 459.5,353.3 461.4,352.8 465.9,351.0 471.6,349.7 474.5,349.5 477.4,349.8 484.1,351.3 488.6,353.2 494.7,356.2 498.2,358.2 501.7,360.7 504.9,363.4 507.2,365.6 509.1,367.9 514.2,375.1 520.3,385.2 525.4,394.5" stroke="#111111" stroke-width="1.5"/>
<path d="M371.4,382.5 393.0,409.5 397.7,415.1 397.7,415.8 400.6,415.2 401.9,414.5 402.8,413.5 404.4,410.2 406.3,403.5 409.9,387.7 410.2,389.2 411.1,386.5 413.4,377.6 414.7,373.6 417.2,367.7 418.5,366.0 420.1,364.9 421.7,364.1 423.6,362.3 426.8,360.2 430.0,358.6 434.2,357.2 442.2,355.2 446.3,354.4 449.2,350.6 450.5,353.6 450.8,353.8 458.5,352.9 461.1,352.3 466.5,350.2 472.3,349.0 475.5,348.9 478.7,349.3 483.5,350.4 487.3,351.8 494.0,355.2 497.6,357.1 501.1,359.5 504.3,362.1 506.8,364.6 508.8,366.8 513.9,373.9 520.0,383.9 525.4,393.8" stroke="#2a6fdc" stroke-width="1.5"/>
<path d="M371.4,383.3 391.6,408.6 397.0,415.1 397.7,415.8 400.9,415.1 403.1,413.9 406.7,410.6 407.6,409.1 409.2,405.7 410.2,404.2 410.5,404.2 410.8,405.8 411.1,406.2 412.1,403.5 413.4,397.1 414.3,393.5 417.5,385.5 417.9,385.1 418.2,385.1 418.8,385.6 420.1,387.4 421.4,390.3 421.7,390.5 422.0,390.2 423.3,386.9 425.5,382.3 428.4,374.7 430.3,370.6 431.9,367.8 433.5,365.5 435.1,363.7 437.1,361.8 439.3,360.1 441.5,358.7 443.8,357.6 446.3,356.6 449.2,352.6 450.5,355.4 450.8,355.6 460.1,354.5 466.5,352.5 471.6,351.7 474.5,351.7 478.7,352.2 483.5,353.1 487.0,354.3 493.7,357.3 497.6,359.3 501.1,361.5 504.3,364.0 506.8,366.4 508.8,368.5 513.9,375.4 520.0,385.3 525.4,394.9" stroke="#55d040" stroke-width="1.5"/>
<path d="M371.4,394.2 391.6,411.2 397.0,415.4 397.7,415.8 401.2,415.0 403.5,413.7 406.7,410.6 407.6,409.1 409.2,405.7 410.2,404.2 410.5,404.2 410.8,405.8 411.1,406.2 412.1,403.5 413.4,397.1 414.3,393.5 417.5,385.5 417.9,385.1 418.2,385.1 418.8,385.6 420.1,387.5 421.4,390.7 421.7,391.0 422.0,390.9 423.3,388.3 425.5,386.1 427.5,383.3 429.4,381.0 431.9,379.0 436.1,376.8 438.0,374.9 443.5,365.7 446.7,361.5 449.2,356.8 450.5,358.8 450.8,360.5 452.4,359.4 454.0,358.7 460.7,356.5 465.6,354.6 471.6,353.1 474.8,352.7 477.7,352.9 481.6,353.6 484.4,354.2 487.0,355.1 493.7,358.1 497.6,360.0 501.1,362.2 504.3,364.6 506.8,367.0 508.8,369.1 513.9,375.9 520.0,385.7 525.4,395.3" stroke="#e0200f" stroke-width="1.5"/>
<path d="M371.4,392.7 397.7,382.2 406.0,380.7 410.2,379.2 411.1,379.4 411.5,379.3 412.4,378.6 414.7,376.0 417.9,373.0 418.8,373.2 420.1,373.9 421.4,374.9 422.0,374.9 423.3,374.0 425.5,373.0 428.7,371.0 431.0,369.9 433.9,368.9 441.2,367.0 446.3,365.9 449.2,363.5 450.5,365.5 450.8,365.6 460.1,366.3 465.9,366.0 473.9,366.5 477.1,367.2 483.5,368.9 487.0,370.3 497.6,375.8 501.1,378.1 504.3,380.7 506.8,383.2 508.8,385.4 513.9,392.5 520.0,402.6 525.4,412.4" stroke="#111111" stroke-width="1.5"/>
<path d="M371.4,405.6 393.0,428.2 395.7,430.7 397.7,432.0 397.7,432.7 399.9,431.2 401.2,429.9 402.5,427.9 403.5,425.6 406.3,415.9 409.9,400.4 410.2,401.2 410.5,400.5 410.8,400.9 411.1,400.3 413.4,389.9 414.3,386.2 416.9,379.6 417.9,377.7 418.5,377.3 419.1,377.3 420.1,377.4 421.4,378.1 421.7,378.0 423.6,375.7 428.4,371.7 430.7,370.3 432.9,369.2 435.5,368.4 441.9,366.5 446.3,365.6 449.2,363.1 450.5,365.1 450.8,365.3 460.1,365.9 465.9,365.5 472.3,365.8 474.5,366.0 477.4,366.6 483.8,368.3 486.4,369.3 494.4,373.3 498.8,375.9 502.0,378.1 505.2,380.9 507.8,383.5 510.4,386.8 513.9,391.8 516.4,395.9 521.2,404.1 525.4,411.7" stroke="#2a6fdc" stroke-width="1.5"/>
<path d="M371.4,406.4 393.0,429.0 395.7,431.5 397.7,432.7 400.9,430.4 401.9,429.2 403.1,427.1 407.0,418.9 409.2,411.5 410.2,409.2 410.5,409.3 410.8,411.6 411.1,412.2 412.1,408.2 413.4,400.0 414.3,395.6 417.5,386.7 417.9,386.3 418.2,386.3 419.1,387.2 420.1,388.8 421.1,391.5 421.7,392.5 422.0,392.3 422.3,391.6 423.3,389.1 425.5,385.9 429.1,379.1 430.7,376.8 432.6,374.6 434.8,372.6 437.7,370.6 441.9,368.4 446.3,367.0 449.2,364.5 450.5,366.3 450.8,366.4 453.1,366.4 460.4,367.2 466.5,367.4 473.9,368.5 484.1,371.1 487.3,372.3 493.7,375.3 499.8,378.6 503.0,380.9 505.9,383.4 508.1,385.7 510.7,388.9 513.9,393.3 516.8,397.8 521.6,405.9 525.4,412.8" stroke="#55d040" stroke-width="1.5"/>
<path d="M371.4,417.3 385.6,426.4 394.3,431.6 397.0,432.7 397.7,432.7 398.7,432.1 401.2,430.0 403.1,427.1 407.0,418.9 409.2,411.5 410.2,409.2 410.5,409.3 410.8,411.6 411.1,412.2 412.1,408.2 413.4,400.0 414.3,395.6 417.5,386.7 417.9,386.3 418.2,386.3 418.8,386.8 420.1,388.8 421.4,392.3 421.7,392.7 422.0,392.5 423.3,389.6 425.5,387.2 427.8,383.7 429.7,381.4 432.6,379.2 436.7,377.2 438.7,376.0 443.5,371.9 446.7,369.6 449.2,367.0 450.5,368.2 450.8,369.2 452.4,368.8 454.0,368.6 464.9,368.7 473.6,369.5 477.1,370.2 484.1,371.9 486.4,372.7 494.7,376.4 499.2,378.9 502.4,381.0 505.2,383.4 507.8,385.9 510.4,389.0 513.9,393.9 516.4,397.8 521.2,405.8 525.4,413.2" stroke="#e0200f" stroke-width="1.5"/>
<path d="M371.4,415.8 397.7,400.0 402.2,399.0 406.0,397.4 407.6,396.3 410.2,393.8 410.5,393.8 410.8,394.6 411.1,394.7 412.4,392.6 414.7,386.7 416.3,384.1 417.2,382.1 417.9,381.3 418.5,381.4 419.1,381.9 420.1,383.0 421.1,384.7 421.7,385.4 422.3,384.9 423.3,383.4 425.5,381.7 428.7,378.3 431.9,376.1 434.5,374.9 440.3,373.0 442.5,372.4 446.3,371.7 449.2,370.6 450.5,371.6 453.1,372.0 456.6,373.1 462.4,375.2 464.9,376.3 471.3,380.3 478.7,384.4 486.0,387.5 495.3,392.4 498.8,394.5 502.0,396.8 504.9,399.2 507.5,401.8 512.3,408.1 517.4,416.1 525.4,430.4" stroke="#111111" stroke-width="1.5"/>
<path d="M371.4,428.7 384.2,439.6 392.3,445.9 395.0,447.4 396.4,447.6 397.0,447.4 397.7,446.7 397.7,447.3 400.6,442.2 402.2,438.1 406.7,421.7 409.5,409.0 409.9,408.0 410.5,407.7 410.8,409.3 411.1,409.3 412.1,404.8 413.4,397.0 414.3,392.8 417.5,383.9 417.9,383.5 418.2,383.4 418.8,383.6 420.1,384.8 421.1,386.5 421.7,387.1 422.3,386.4 423.3,384.5 425.5,382.4 428.1,379.2 429.7,377.6 431.6,376.3 434.5,374.9 439.9,373.0 442.5,372.3 446.3,371.6 449.2,370.4 450.5,371.4 453.1,371.8 456.3,372.8 462.4,374.9 464.9,376.0 471.0,379.6 478.7,383.8 486.0,386.9 494.7,391.4 498.8,393.8 502.0,396.1 504.9,398.5 507.5,401.1 512.3,407.4 517.4,415.4 525.4,429.7" stroke="#2a6fdc" stroke-width="1.5"/>
<path d="M371.4,429.5 383.5,439.8 391.6,446.2 393.7,447.5 395.0,448.1 396.4,448.3 397.0,448.0 397.7,447.3 399.9,443.5 401.9,439.2 407.0,422.9 409.2,413.7 410.2,411.1 410.5,411.2 410.8,413.8 411.1,414.5 412.1,409.9 413.4,400.9 414.3,396.3 417.5,387.0 417.9,386.6 418.2,386.6 419.1,387.6 420.1,389.2 421.1,392.0 421.7,393.1 422.0,392.9 422.3,392.3 423.3,389.9 425.5,387.1 428.7,381.8 430.3,379.9 432.3,378.1 435.5,376.1 440.3,373.8 442.8,372.9 446.7,372.0 449.2,371.0 450.5,371.9 452.7,372.2 455.9,373.2 459.8,374.7 464.0,376.5 466.5,378.0 471.6,381.8 478.4,386.2 480.9,387.4 486.4,389.6 495.3,394.0 499.5,396.3 503.0,398.8 505.9,401.3 508.1,403.6 513.6,410.8 519.0,419.5 525.4,430.8" stroke="#55d040" stroke-width="1.5"/>
<path d="M371.4,440.4 383.5,445.6 391.6,448.5 393.7,449.0 395.0,449.1 396.4,448.7 397.0,448.2 400.3,442.9 401.9,439.2 407.0,422.9 409.2,413.7 410.2,411.1 410.5,411.2 410.8,413.8 411.1,414.5 412.1,409.9 413.4,400.9 414.3,396.3 417.5,387.0 417.9,386.6 418.2,386.6 419.1,387.6 420.1,389.2 421.1,392.0 421.7,393.2 422.0,393.0 422.3,392.4 423.6,389.5 425.5,387.5 428.7,382.7 431.3,380.2 433.5,378.8 442.2,374.8 449.2,372.1 450.5,372.7 450.8,373.1 453.1,373.3 455.9,374.0 459.1,375.1 463.0,376.8 466.2,378.7 471.6,382.7 478.7,387.1 481.2,388.4 486.4,390.3 495.3,394.7 499.5,397.0 503.0,399.4 505.9,401.9 508.1,404.2 513.6,411.3 519.0,420.0 525.4,431.2" stroke="#e0200f" stroke-width="1.5"/>
<path d="M371.4,438.9 393.0,421.7 397.7,417.6 400.9,416.3 402.8,415.0 405.7,412.0 407.0,410.4 409.2,405.7 410.2,404.1 410.5,404.1 410.8,405.7 411.1,406.0 412.1,403.2 413.4,396.9 414.3,393.3 417.2,386.0 417.9,385.0 418.5,385.1 419.5,386.3 420.1,387.2 421.4,390.3 421.7,390.6 422.0,390.4 422.3,389.9 423.3,387.9 425.5,385.7 428.7,381.3 430.0,380.1 431.9,378.6 435.1,377.1 441.2,375.0 444.7,374.2 449.2,373.5 450.5,374.0 453.1,374.5 456.3,375.8 459.8,377.7 463.0,379.8 465.2,381.8 467.5,384.2 477.7,397.8 480.6,401.0 482.8,402.7 489.2,406.8 499.5,412.8 502.7,415.2 505.9,418.1 509.4,422.1 514.5,429.3 520.6,439.5 525.4,448.3" stroke="#111111" stroke-width="1.5"/>
<path d="M371.4,451.8 382.2,458.5 384.9,460.0 388.9,461.8 391.0,462.5 393.0,462.9 394.3,462.7 395.7,461.7 396.4,460.8 397.7,457.2 397.7,457.5 401.2,446.4 404.7,431.7 407.0,423.5 409.5,412.2 410.2,410.7 410.5,410.6 410.8,413.0 411.1,413.5 412.1,408.7 413.4,399.9 414.3,395.4 417.5,386.2 417.9,385.7 418.2,385.7 419.1,386.5 420.1,387.9 421.1,390.3 421.7,391.3 422.3,390.5 423.3,388.3 425.5,385.9 428.4,381.8 429.7,380.4 431.9,378.7 435.1,377.1 441.2,374.9 444.7,374.1 449.2,373.4 450.5,373.9 453.1,374.4 456.3,375.7 459.8,377.6 463.0,379.7 464.9,381.3 467.2,383.7 476.1,395.4 478.7,398.5 480.3,400.1 482.5,401.9 489.2,406.1 499.5,412.1 502.7,414.5 505.6,417.1 509.4,421.4 514.5,428.6 520.6,438.8 525.4,447.6" stroke="#2a6fdc" stroke-width="1.5"/>
<path d="M371.4,452.6 377.5,456.5 382.2,459.3 384.9,460.7 388.9,462.5 391.0,463.2 393.0,463.5 394.3,463.3 395.7,462.2 396.4,461.2 397.0,459.7 401.2,446.5 404.7,432.0 407.0,424.3 409.5,413.4 410.2,411.7 410.5,411.8 410.8,414.6 411.1,415.2 412.1,410.4 413.4,401.2 414.3,396.5 417.5,387.1 417.9,386.7 418.2,386.7 419.1,387.7 420.1,389.3 421.1,392.2 421.7,393.3 422.0,393.1 422.3,392.5 423.3,390.1 425.5,387.5 428.4,382.9 430.0,381.0 431.9,379.4 435.1,377.6 441.2,375.2 445.1,374.3 449.2,373.7 453.1,374.6 456.3,375.9 459.8,377.8 463.0,380.0 465.2,382.1 467.5,384.6 478.0,399.7 479.6,401.7 480.9,402.9 483.2,404.7 489.2,408.5 500.1,414.6 503.3,417.0 506.5,419.8 510.0,423.9 514.8,430.6 520.6,440.1 525.4,448.7" stroke="#55d040" stroke-width="1.5"/>
<path d="M371.4,463.4 378.8,465.0 384.9,465.6 389.6,465.6 391.6,465.4 393.7,464.7 395.0,463.6 396.4,461.6 397.0,459.8 401.2,446.5 404.7,432.0 407.0,424.3 409.5,413.4 410.2,411.7 410.5,411.8 410.8,414.6 411.1,415.2 412.1,410.4 413.4,401.2 414.3,396.5 417.5,387.1 417.9,386.7 418.2,386.7 419.1,387.7 420.1,389.3 421.1,392.2 421.7,393.3 422.0,393.1 422.3,392.5 423.3,390.1 425.5,387.6 428.4,383.2 429.7,381.7 431.6,380.1 434.5,378.4 441.5,375.6 445.4,374.6 448.6,374.1 449.2,374.0 452.7,374.8 455.3,375.8 459.1,377.7 462.7,380.0 464.9,382.1 467.5,385.0 478.0,400.3 479.6,402.3 480.9,403.6 483.2,405.4 489.2,409.3 497.2,413.6 500.4,415.5 503.6,417.9 506.5,420.4 510.0,424.5 514.8,431.1 520.6,440.6 525.4,449.1" stroke="#e0200f" stroke-width="1.5"/>
<path d="M371.4,462.0 393.0,440.1 395.7,437.1 397.7,434.3 400.3,432.0 401.9,430.0 403.1,427.6 406.7,419.9 409.2,411.5 410.2,409.2 410.5,409.3 410.8,411.6 411.1,412.1 412.1,408.1 413.4,399.9 414.3,395.5 417.2,387.3 417.9,386.2 418.5,386.4 419.5,387.7 420.1,388.7 421.4,392.2 421.7,392.5 422.0,392.4 422.3,391.8 423.3,389.5 425.5,387.0 428.4,382.7 429.7,381.3 431.9,379.5 435.1,377.9 441.5,375.6 445.7,374.7 448.9,374.4 452.7,375.2 457.5,377.4 462.0,380.5 465.2,383.8 467.5,386.8 469.7,390.6 474.2,399.4 479.6,411.2 481.2,414.1 482.8,416.5 486.0,420.3 489.9,424.1 492.4,426.1 501.7,432.4 505.2,435.4 508.1,438.4 511.3,442.6 515.5,448.8 520.9,458.0 525.4,466.2" stroke="#111111" stroke-width="1.5"/>
<path d="M371.4,474.7 375.4,476.4 378.1,477.3 380.8,477.9 383.5,478.1 385.6,478.0 389.6,477.2 392.3,475.9 393.7,474.7 395.0,472.4 396.4,468.7 398.7,458.2 401.5,447.2 404.4,433.9 407.0,424.5 409.5,413.2 410.2,411.5 410.5,411.6 410.8,414.3 411.1,414.9 412.1,410.0 413.4,400.9 414.3,396.2 417.5,386.9 417.9,386.4 418.2,386.4 419.1,387.4 420.1,389.0 421.1,391.7 421.7,392.8 422.0,392.6 422.3,392.0 423.3,389.6 425.5,387.1 428.4,382.8 429.7,381.3 431.6,379.7 434.8,378.0 440.9,375.8 444.7,374.9 447.9,374.4 449.2,374.4 452.4,375.1 456.6,376.9 459.1,378.4 461.7,380.2 464.9,383.3 467.2,386.2 469.4,390.0 474.2,399.2 479.6,410.9 481.2,413.7 482.8,416.0 486.0,419.8 489.9,423.5 492.4,425.5 501.7,431.7 504.9,434.4 507.8,437.3 511.3,441.9 515.5,448.1 520.9,457.3 525.4,465.5" stroke="#2a6fdc" stroke-width="1.5"/>
<path d="M371.4,475.5 375.4,477.2 378.1,478.0 380.8,478.6 383.5,478.8 385.6,478.6 389.6,477.7 392.3,476.4 393.7,475.1 395.0,472.8 396.4,468.9 398.3,459.6 401.2,448.6 404.4,434.0 407.0,424.7 409.2,414.7 410.2,411.9 410.5,411.9 410.8,414.8 411.1,415.5 412.1,410.5 413.4,401.3 414.3,396.5 417.5,387.1 417.9,386.7 418.2,386.7 419.1,387.7 420.1,389.4 421.1,392.2 421.7,393.4 422.0,393.2 422.3,392.6 423.3,390.1 425.5,387.6 428.4,383.1 429.7,381.6 431.6,380.0 434.8,378.1 440.6,375.9 443.8,375.1 447.6,374.5 449.2,374.5 452.4,375.1 456.6,376.9 459.1,378.4 461.4,380.0 463.0,381.4 464.9,383.5 467.5,386.9 469.7,390.8 474.2,399.8 480.0,412.8 481.6,415.8 483.5,418.7 487.0,422.9 490.2,426.0 492.8,427.9 502.0,433.9 505.2,436.6 508.1,439.5 511.3,443.5 515.5,449.6 520.9,458.6 525.4,466.6" stroke="#55d040" stroke-width="1.5"/>
<path d="M371.4,486.1 374.8,486.0 377.5,485.7 380.8,484.7 383.5,483.5 391.0,478.7 393.0,476.8 394.3,474.7 396.4,469.0 398.3,459.6 401.2,448.6 404.4,434.0 407.0,424.7 409.2,414.7 410.2,411.9 410.5,411.9 410.8,414.8 411.1,415.5 412.1,410.5 413.4,401.3 414.3,396.5 417.5,387.1 417.9,386.7 418.2,386.7 419.1,387.7 420.1,389.4 421.1,392.2 421.7,393.4 422.0,393.2 422.3,392.6 423.6,389.7 425.5,387.6 428.7,382.8 431.3,380.3 434.5,378.4 440.3,376.2 442.8,375.5 446.7,374.7 449.2,374.6 452.1,375.1 455.3,376.4 458.2,377.9 460.7,379.6 462.7,381.2 464.6,383.2 467.2,386.5 469.7,391.0 474.5,400.7 480.0,413.2 481.6,416.2 483.5,419.2 487.3,423.9 490.5,427.0 493.1,428.9 502.0,434.5 505.2,437.2 508.1,440.0 511.3,444.1 515.5,450.1 520.9,459.1 525.4,467.0" stroke="#e0200f" stroke-width="1.5"/>
<path d="M371.4,484.7 376.8,478.1 392.3,458.3 394.3,455.5 396.4,451.9 397.7,448.6 400.6,442.9 401.9,439.6 404.7,429.8 407.0,422.9 408.9,414.9 409.9,411.9 410.2,411.1 410.5,411.2 410.8,413.8 411.1,414.5 412.1,409.8 413.4,400.9 414.3,396.2 417.5,387.0 417.9,386.6 418.2,386.6 419.1,387.6 420.1,389.2 421.1,392.0 421.7,393.1 422.0,393.0 422.3,392.4 423.3,390.0 425.5,387.5 428.4,383.0 429.7,381.6 431.6,380.0 434.8,378.2 440.9,376.0 444.7,375.1 447.9,374.7 449.9,374.8 452.7,375.4 455.6,376.7 458.2,378.1 460.7,379.9 462.7,381.5 464.6,383.6 466.5,386.1 469.1,390.5 472.9,398.7 476.4,407.5 480.0,418.0 482.5,424.7 485.4,430.9 489.2,438.1 491.5,441.4 493.7,443.9 496.0,445.9 504.0,452.1 506.8,454.9 509.1,457.5 512.9,462.8 515.8,467.2 520.9,476.0 525.4,484.2" stroke="#111111" stroke-width="1.5"/>
<path d="M371.4,497.0 374.1,497.2 376.8,496.9 378.8,496.2 382.2,494.0 384.2,492.2 387.6,488.4 389.6,486.6 391.0,485.0 393.0,482.2 394.3,479.3 396.4,472.0 398.7,459.6 401.2,449.3 404.4,434.2 407.0,424.8 409.2,414.6 410.2,411.8 410.5,411.9 410.8,414.7 411.1,415.4 412.1,410.4 413.4,401.2 414.3,396.4 417.5,387.1 417.9,386.7 418.2,386.6 419.1,387.6 420.1,389.3 421.1,392.1 421.7,393.2 422.0,393.0 422.3,392.4 423.3,390.0 425.5,387.5 428.4,383.1 429.7,381.6 431.6,380.0 434.8,378.2 440.6,376.1 442.8,375.4 447.0,374.7 449.2,374.7 452.4,375.3 457.2,377.5 459.8,379.2 462.4,381.2 464.3,383.2 466.2,385.7 468.8,389.9 472.6,397.9 476.4,407.5 480.0,417.9 482.2,423.7 484.8,429.3 488.9,437.1 491.2,440.4 493.4,442.9 496.0,445.2 504.0,451.4 506.8,454.2 509.1,456.8 512.9,462.1 515.8,466.5 520.9,475.3 525.4,483.5" stroke="#2a6fdc" stroke-width="1.5"/>
<path d="M371.4,497.7 374.1,497.9 376.8,497.6 378.8,496.8 381.5,495.0 384.2,492.7 387.6,488.7 390.3,486.0 392.3,483.4 393.7,481.0 395.0,477.3 396.4,472.1 398.7,459.6 401.2,449.3 404.4,434.3 407.0,424.8 409.2,414.7 410.2,411.9 410.5,412.0 410.8,414.8 411.1,415.5 412.1,410.6 413.4,401.3 414.3,396.5 417.5,387.2 417.9,386.7 418.2,386.7 419.1,387.7 420.1,389.4 421.1,392.2 421.7,393.4 422.0,393.2 422.3,392.6 423.3,390.1 425.5,387.6 428.4,383.2 429.7,381.7 431.6,380.0 434.8,378.3 440.6,376.1 442.8,375.5 447.0,374.8 449.2,374.8 452.4,375.3 457.2,377.6 459.8,379.2 462.4,381.2 464.3,383.2 466.2,385.7 469.1,390.5 472.9,398.8 476.4,407.8 480.0,418.5 482.8,426.1 486.0,433.1 489.6,439.9 491.8,443.2 494.0,445.6 496.3,447.6 504.3,453.6 507.2,456.3 509.4,458.9 513.6,464.6 516.1,468.5 521.2,477.1 525.4,484.6" stroke="#55d040" stroke-width="1.5"/>
<path d="M371.4,507.4 374.1,506.2 376.1,504.9 377.5,503.7 378.8,502.2 382.9,497.1 386.9,491.0 391.6,485.0 393.0,482.7 394.3,479.6 396.4,472.1 398.3,461.0 401.2,449.3 404.4,434.3 407.0,424.8 409.2,414.7 410.2,411.9 410.5,412.0 410.8,414.8 411.1,415.5 412.1,410.6 413.4,401.3 414.3,396.5 417.5,387.2 417.9,386.7 418.2,386.7 419.1,387.7 420.1,389.4 421.1,392.2 421.7,393.4 422.0,393.2 422.3,392.6 423.6,389.7 425.5,387.6 428.7,382.8 431.3,380.3 434.2,378.6 439.6,376.5 442.5,375.6 446.0,374.9 448.9,374.8 452.1,375.3 453.7,375.8 456.6,377.2 459.5,379.0 462.0,381.0 464.0,382.9 466.2,385.7 469.1,390.6 472.9,398.9 476.4,407.8 480.0,418.6 482.8,426.4 487.0,435.5 489.9,441.0 491.8,443.8 494.0,446.3 496.6,448.5 504.3,454.2 507.2,456.9 509.4,459.5 513.6,465.1 516.1,469.0 521.2,477.5 525.4,485.0" stroke="#e0200f" stroke-width="1.5"/>
<path d="M371.4,496.4 397.7,499.6 416.6,497.5 435.8,496.3 439.0,495.8 446.3,494.4 449.2,489.6 450.5,493.3 450.8,493.6 455.6,492.5 458.8,491.5 461.1,490.5 465.9,487.7 472.0,485.6 473.9,485.2 475.8,485.2 480.9,485.9 484.1,486.7 486.4,487.5 495.6,492.1 501.1,495.5 505.9,499.6 509.4,503.6 514.5,510.9 520.6,521.1 525.4,529.8" stroke="#111111" stroke-width="1.5"/>
<path d="M371.4,509.3 397.7,550.8 397.7,551.6 400.9,551.6 402.2,551.4 403.1,550.7 404.1,549.3 405.1,546.8 406.0,543.3 409.9,525.8 410.2,527.9 412.1,520.2 414.0,514.2 415.6,510.2 417.5,506.6 419.5,503.8 421.7,501.5 424.9,499.2 429.1,497.5 432.6,496.6 446.3,493.7 449.2,488.9 450.5,492.6 450.8,492.9 455.3,491.9 458.5,490.9 461.1,489.8 466.2,486.9 470.4,485.3 472.9,484.7 475.2,484.5 478.0,484.7 483.5,485.8 485.7,486.5 488.9,488.0 496.6,491.9 500.1,494.1 503.3,496.6 505.9,498.9 508.1,501.3 513.6,508.7 519.0,517.6 525.4,529.2" stroke="#2a6fdc" stroke-width="1.5"/>
<path d="M371.4,510.1 397.7,551.6 407.6,552.0 418.5,552.7 419.8,552.5 420.7,551.8 421.4,550.9 422.0,549.4 423.0,546.2 426.8,528.3 428.7,520.6 430.3,515.4 432.3,510.6 434.5,506.5 437.1,503.1 439.0,501.2 441.2,499.4 443.8,497.8 446.3,496.7 449.2,491.4 450.5,495.0 450.8,495.2 456.3,493.9 459.5,492.8 461.4,492.0 465.6,489.7 468.8,488.5 472.3,487.6 474.8,487.4 479.3,487.8 484.8,488.8 488.0,490.0 495.6,493.6 499.5,495.8 503.0,498.3 506.5,501.4 509.1,504.2 512.6,508.9 515.8,513.7 520.9,522.2 525.4,530.3" stroke="#55d040" stroke-width="1.5"/>
<path d="M371.4,521.0 397.7,551.6 408.3,552.0 417.9,552.7 425.2,554.0 428.7,554.9 432.9,556.1 433.9,556.1 434.5,555.7 435.1,554.5 436.1,550.8 439.9,526.0 442.2,515.5 444.1,509.5 446.7,504.0 449.2,496.9 450.5,499.7 450.8,502.3 452.4,500.5 454.7,498.7 460.7,495.0 465.6,491.8 469.7,489.9 472.3,488.9 474.5,488.5 477.4,488.5 484.1,489.5 488.3,491.0 494.4,493.7 498.2,495.7 501.7,498.0 504.9,500.5 507.2,502.6 509.1,504.8 514.2,511.7 520.3,521.6 525.4,530.7" stroke="#e0200f" stroke-width="1.5"/>
<path d="M371.4,519.5 397.7,517.6 416.6,515.5 432.9,514.4 437.7,513.9 446.3,512.3 449.2,507.5 450.5,511.3 450.8,511.5 455.6,510.5 458.8,509.4 461.1,508.4 465.9,505.6 471.3,503.7 474.8,503.1 479.3,503.5 483.5,504.4 485.7,505.1 494.4,509.3 500.4,513.0 503.0,514.9 505.6,517.2 509.4,521.5 514.5,528.8 520.6,539.0 525.4,547.8" stroke="#111111" stroke-width="1.5"/>
<path d="M371.4,532.4 397.7,568.8 397.7,569.6 400.6,569.6 401.9,569.4 402.8,568.9 403.5,568.2 404.4,566.5 405.1,564.7 406.3,559.9 409.9,543.7 410.2,545.8 412.4,537.0 414.7,530.4 416.3,526.8 417.9,524.0 419.8,521.4 421.7,519.4 424.9,517.2 429.1,515.4 432.6,514.5 446.3,511.6 449.2,506.8 450.5,510.5 450.8,510.8 455.6,509.7 458.8,508.7 461.1,507.7 465.9,504.9 470.7,503.2 473.9,502.4 476.8,502.5 479.6,502.9 483.8,503.8 488.0,505.4 494.4,508.6 497.9,510.6 501.4,513.0 504.6,515.6 506.8,517.8 508.8,520.0 513.9,527.1 520.0,537.2 525.4,547.1" stroke="#2a6fdc" stroke-width="1.5"/>
<path d="M371.4,533.2 397.7,569.6 412.1,570.1 418.8,570.1 419.8,570.0 420.7,569.4 421.4,568.5 422.7,565.1 427.5,543.4 428.7,538.4 430.3,533.3 431.9,529.2 433.5,526.0 435.1,523.4 437.1,521.0 439.0,519.1 441.2,517.3 443.8,515.8 446.3,514.6 449.2,509.4 450.5,512.9 450.8,513.1 456.3,511.8 459.1,510.9 461.1,510.1 465.6,507.6 470.4,506.0 473.9,505.3 478.0,505.5 484.1,506.6 488.9,508.4 494.7,511.1 498.5,513.1 501.7,515.2 504.9,517.8 507.2,520.0 509.1,522.2 514.2,529.1 520.3,539.1 525.4,548.2" stroke="#55d040" stroke-width="1.5"/>
<path d="M371.4,544.1 397.7,569.6 412.1,570.1 417.9,570.1 421.7,571.0 428.7,572.0 432.9,573.0 433.9,572.9 434.5,572.5 435.1,571.4 436.1,567.9 439.9,543.7 442.2,533.3 444.1,527.3 446.7,521.9 449.2,514.8 450.5,517.6 450.8,520.2 452.4,518.4 454.7,516.6 460.7,512.9 465.6,509.7 469.4,507.9 472.0,507.0 474.2,506.4 476.4,506.3 479.3,506.6 483.5,507.3 487.6,508.6 494.0,511.5 497.9,513.4 501.4,515.7 504.6,518.2 506.8,520.2 508.8,522.3 513.9,529.2 520.0,539.0 525.4,548.6" stroke="#e0200f" stroke-width="1.5"/>
<path d="M371.4,542.6 397.7,535.5 417.5,533.3 436.4,532.0 446.3,530.2 449.2,525.4 450.5,529.1 450.8,529.3 452.7,529.0 456.3,528.2 459.5,527.1 461.1,526.3 465.9,523.5 471.0,521.7 474.5,521.0 478.4,521.3 485.1,522.8 487.6,523.9 493.1,526.6 496.6,528.5 499.8,530.5 502.7,532.6 505.2,534.9 509.1,539.1 514.2,546.2 520.3,556.4 525.4,565.7" stroke="#111111" stroke-width="1.5"/>
<path d="M371.4,555.5 397.7,586.7 397.7,587.5 400.6,587.5 401.9,587.3 402.8,586.8 403.5,586.1 404.4,584.4 405.1,582.6 406.3,577.7 409.9,561.6 410.2,563.7 412.4,554.9 414.7,548.3 416.3,544.7 417.9,541.8 419.5,539.6 421.4,537.6 424.6,535.2 428.7,533.4 432.3,532.5 446.3,529.5 449.2,524.7 450.5,528.4 450.8,528.6 455.6,527.6 459.1,526.5 461.1,525.6 465.6,523.0 470.4,521.2 473.6,520.4 476.1,520.3 479.0,520.7 483.5,521.7 487.6,523.2 494.0,526.4 497.9,528.5 501.4,530.9 504.6,533.6 506.8,535.8 508.8,538.0 513.9,545.1 520.0,555.1 525.4,565.0" stroke="#2a6fdc" stroke-width="1.5"/>
<path d="M371.4,556.3 397.7,587.5 410.2,587.6 411.5,587.7 417.5,586.4 420.1,586.4 420.7,586.1 421.4,585.4 422.7,582.2 427.5,561.0 428.7,556.1 430.3,551.0 431.9,547.0 433.5,543.8 435.1,541.2 437.1,538.8 439.0,536.9 441.2,535.2 443.8,533.6 446.3,532.4 449.2,527.2 450.5,530.8 450.8,531.0 456.3,529.6 459.1,528.7 461.1,527.9 465.6,525.5 470.0,524.0 473.6,523.3 477.1,523.4 483.8,524.4 488.3,526.0 494.4,528.8 498.2,530.9 501.7,533.2 504.9,535.8 507.2,537.9 509.1,540.1 514.2,547.1 520.3,557.0 525.4,566.1" stroke="#55d040" stroke-width="1.5"/>
<path d="M371.4,567.2 397.7,587.5 410.2,587.6 411.5,587.7 417.9,586.4 419.1,586.7 422.0,587.8 429.1,587.5 432.9,587.7 433.9,587.6 434.5,587.1 435.1,586.2 436.1,583.3 437.1,578.5 439.9,561.1 442.2,551.0 444.1,545.1 446.7,539.7 449.2,532.7 450.5,535.4 450.8,538.0 452.4,536.2 454.7,534.4 460.7,530.8 465.6,527.6 471.6,525.0 473.9,524.4 475.8,524.3 479.0,524.5 483.5,525.2 487.3,526.4 494.0,529.4 497.6,531.2 501.1,533.4 504.3,535.8 506.8,538.2 508.8,540.3 513.9,547.1 520.0,556.9 525.4,566.5" stroke="#e0200f" stroke-width="1.5"/>
<path d="M371.4,565.7 397.7,553.4 417.5,551.1 433.5,549.9 439.0,549.3 446.3,547.9 449.2,543.2 450.5,546.8 450.8,547.0 455.6,546.1 458.8,545.1 461.1,544.1 465.9,541.4 471.0,539.6 474.2,538.9 477.4,539.1 484.1,540.4 488.6,542.3 494.7,545.3 498.2,547.4 501.7,549.8 504.9,552.5 507.2,554.7 509.1,557.0 514.2,564.2 520.3,574.3 525.4,583.6" stroke="#111111" stroke-width="1.5"/>
<path d="M371.4,578.6 397.7,604.6 397.7,605.4 400.6,605.4 401.9,605.1 402.8,604.6 403.5,603.9 404.4,602.1 405.1,600.3 406.3,595.5 409.9,579.4 410.2,581.4 412.4,572.7 414.7,566.0 415.9,563.0 417.5,560.0 419.1,557.7 421.1,555.7 423.0,554.1 424.6,553.0 428.7,551.2 432.6,550.1 446.3,547.2 449.2,542.5 450.5,546.1 450.8,546.3 455.6,545.4 459.1,544.3 461.1,543.4 465.6,540.8 470.0,539.2 472.9,538.4 475.5,538.2 478.4,538.5 481.9,539.2 484.4,539.8 487.0,540.8 493.7,544.1 497.6,546.3 501.1,548.6 504.3,551.2 506.8,553.7 508.8,555.9 513.9,563.0 520.0,573.1 525.4,582.9" stroke="#2a6fdc" stroke-width="1.5"/>
<path d="M371.4,579.4 397.7,605.4 406.3,605.2 410.2,604.5 411.1,604.9 411.5,604.8 412.4,604.3 414.3,602.4 416.3,601.0 417.5,599.8 418.2,599.7 420.7,600.6 421.4,600.4 421.7,600.0 422.3,598.5 423.6,594.0 428.1,575.4 430.3,568.3 431.9,564.4 433.5,561.2 435.5,558.3 437.7,555.7 439.6,554.0 441.9,552.3 444.1,551.1 446.3,550.1 449.2,545.0 450.5,548.4 450.8,548.6 456.3,547.4 459.5,546.4 461.4,545.6 465.6,543.3 468.8,542.3 472.3,541.4 474.8,541.2 480.9,541.8 484.1,542.4 486.7,543.3 493.4,546.3 497.2,548.3 500.8,550.4 504.0,552.8 506.5,555.2 508.4,557.2 513.9,564.5 520.0,574.4 525.4,584.0" stroke="#55d040" stroke-width="1.5"/>
<path d="M371.4,590.3 397.7,605.4 406.3,605.2 410.2,604.5 411.1,604.9 412.4,604.3 414.7,602.1 417.9,599.7 418.8,600.0 420.1,600.9 421.4,602.2 422.0,602.3 423.3,601.5 425.5,600.9 429.4,599.0 433.9,597.7 434.8,597.1 435.5,596.2 436.7,592.7 440.6,574.3 442.8,565.8 444.4,561.6 446.7,557.2 449.2,550.3 450.5,553.0 450.8,555.6 452.4,553.8 454.3,552.3 460.7,548.5 465.2,545.6 471.3,543.0 473.2,542.4 475.2,542.2 477.7,542.3 481.2,542.7 484.4,543.3 487.0,544.2 493.7,547.2 497.6,549.1 501.1,551.3 504.3,553.7 506.8,556.1 508.8,558.2 513.9,565.1 520.0,574.8 525.4,584.4" stroke="#e0200f" stroke-width="1.5"/>
<path d="M371.4,588.8 397.7,571.4 411.5,569.6 417.9,568.5 422.0,568.4 436.4,566.8 446.3,565.0 449.2,560.5 450.5,564.0 450.8,564.2 454.7,563.5 457.2,563.0 460.1,562.0 465.6,559.2 470.0,557.7 473.6,556.9 476.4,556.9 479.3,557.3 483.8,558.3 487.6,559.8 494.0,562.9 497.9,565.1 501.4,567.5 504.6,570.1 506.8,572.3 508.8,574.5 513.9,581.6 520.0,591.7 525.4,601.6" stroke="#111111" stroke-width="1.5"/>
<path d="M371.4,601.7 397.7,622.5 397.7,623.2 400.6,623.1 401.9,622.8 402.8,622.1 403.5,621.3 404.4,619.5 405.1,617.7 406.3,612.8 409.9,596.8 410.2,598.7 412.7,589.0 414.3,584.1 415.6,580.9 417.2,577.7 418.5,575.8 420.1,574.0 423.9,570.9 426.5,569.5 428.7,568.5 432.9,567.3 446.3,564.3 449.2,559.8 450.5,563.3 450.8,563.5 455.3,562.8 458.2,562.0 460.7,561.1 466.2,558.3 471.6,556.5 474.8,556.1 477.4,556.3 480.6,556.8 484.1,557.7 486.7,558.6 493.4,561.9 497.2,564.0 500.8,566.3 504.0,568.9 506.5,571.3 508.4,573.4 513.9,580.9 520.0,591.0 525.4,600.9" stroke="#2a6fdc" stroke-width="1.5"/>
<path d="M371.4,602.5 397.7,623.2 402.2,623.0 406.0,622.1 407.6,621.4 410.2,619.4 410.5,619.5 410.8,620.2 411.1,620.4 412.1,619.2 414.3,613.7 417.5,608.3 417.9,608.0 418.2,608.0 418.8,608.4 421.4,611.2 421.7,611.0 422.0,610.6 424.6,602.9 428.4,589.5 430.7,583.3 432.3,579.9 433.9,577.1 435.8,574.5 437.7,572.4 439.6,570.8 441.9,569.2 444.1,568.0 446.3,567.0 449.2,562.2 450.5,565.5 450.8,565.7 456.6,564.5 459.8,563.6 466.5,560.6 471.3,559.3 474.2,559.0 477.7,559.2 480.6,559.7 484.1,560.4 486.7,561.2 493.4,564.2 497.2,566.2 500.8,568.3 504.0,570.8 506.5,573.1 508.4,575.2 513.9,582.5 520.0,592.3 525.4,602.0" stroke="#55d040" stroke-width="1.5"/>
<path d="M371.4,613.4 397.7,623.2 402.2,623.0 406.0,622.1 407.6,621.4 410.2,619.4 410.5,619.5 410.8,620.2 411.1,620.4 411.8,619.7 412.4,618.5 414.7,613.1 416.3,610.7 417.2,608.7 417.9,608.0 418.5,608.2 419.1,608.7 420.1,609.9 421.4,612.2 421.7,612.5 422.0,612.4 423.3,610.6 425.5,609.1 429.1,605.4 431.3,604.0 434.8,602.2 436.1,601.0 437.1,599.2 438.0,596.7 441.2,585.9 442.8,581.2 444.4,577.5 446.7,573.5 449.2,567.2 450.5,569.8 450.8,572.1 452.4,570.5 454.3,569.2 460.7,565.8 465.2,563.1 471.0,560.9 474.5,560.1 477.1,560.1 480.3,560.5 484.1,561.2 486.7,562.0 493.4,565.0 497.2,566.9 500.8,569.0 504.0,571.4 506.5,573.7 508.4,575.8 513.9,583.0 520.0,592.8 525.4,602.4" stroke="#e0200f" stroke-width="1.5"/>
<path d="M371.4,611.9 397.7,589.3 411.5,587.3 417.9,584.9 422.0,585.4 430.3,583.4 437.4,582.2 446.3,580.3 449.2,576.5 450.5,579.5 450.8,579.7 455.9,579.2 458.8,578.7 461.1,578.1 466.2,576.0 471.6,574.8 474.8,574.5 477.7,574.8 481.2,575.6 484.4,576.4 487.0,577.4 493.7,580.7 497.6,582.8 501.1,585.2 504.3,587.8 506.8,590.2 508.8,592.4 513.9,599.6 520.0,609.6 525.4,619.5" stroke="#111111" stroke-width="1.5"/>
<path d="M371.4,624.8 393.0,637.6 397.7,640.1 397.7,640.9 401.2,640.0 402.2,639.4 402.8,638.7 403.8,637.1 404.4,635.5 406.3,628.8 409.9,613.0 410.2,614.5 411.1,611.7 413.4,602.9 414.7,598.9 417.2,593.1 418.5,591.3 420.1,590.1 421.7,589.3 424.3,587.1 427.1,585.3 429.7,584.0 434.2,582.6 442.2,580.6 446.3,579.8 449.2,575.9 450.5,579.0 450.8,579.2 455.9,578.6 459.1,578.0 461.1,577.5 466.2,575.4 471.3,574.2 473.9,573.8 476.4,574.0 479.3,574.4 483.8,575.5 486.4,576.4 493.4,579.8 497.2,581.9 500.8,584.2 504.0,586.8 506.5,589.2 508.4,591.4 513.9,598.9 520.0,608.9 525.4,618.8" stroke="#2a6fdc" stroke-width="1.5"/>
<path d="M371.4,625.6 391.6,637.6 397.0,640.6 397.7,640.9 400.6,640.3 402.2,639.8 404.1,638.5 406.7,636.1 407.6,634.8 409.2,631.6 410.2,630.1 410.5,630.2 410.8,631.7 411.1,632.1 412.1,629.5 413.4,623.4 414.3,619.8 417.5,612.0 417.9,611.6 418.2,611.6 418.8,612.1 420.1,613.9 421.4,616.7 421.7,616.9 422.0,616.5 423.3,613.2 425.5,608.4 428.7,599.9 430.3,596.4 431.9,593.5 433.5,591.2 435.1,589.3 437.1,587.4 439.3,585.6 441.5,584.2 443.8,583.0 446.3,582.1 449.2,578.0 450.5,580.8 450.8,581.0 459.1,579.9 461.1,579.5 465.9,577.8 470.7,576.9 473.2,576.7 474.8,576.7 479.6,577.4 483.8,578.2 486.4,579.0 496.9,583.9 500.4,586.1 503.6,588.4 506.2,590.7 508.1,592.7 513.6,599.9 519.0,608.6 525.4,619.9" stroke="#55d040" stroke-width="1.5"/>
<path d="M371.4,636.5 396.4,640.8 397.7,640.9 399.6,640.5 401.2,640.1 402.5,639.6 405.4,637.4 407.0,635.8 410.2,630.1 410.5,630.2 410.8,631.7 411.1,632.1 412.1,629.5 413.4,623.4 414.3,619.8 417.5,612.0 417.9,611.7 418.2,611.6 418.8,612.2 420.1,614.0 421.4,617.1 421.7,617.5 422.0,617.3 423.3,614.8 425.5,612.6 427.5,609.9 429.4,607.6 431.9,605.6 436.1,603.4 437.7,601.8 439.3,599.3 443.5,591.5 446.7,587.1 449.2,582.2 450.5,584.3 450.8,586.1 452.4,585.0 454.0,584.2 460.7,581.8 465.2,579.9 470.7,578.4 473.6,577.8 475.8,577.8 479.0,578.1 483.8,579.0 486.4,579.8 496.9,584.6 500.4,586.7 503.6,589.1 506.2,591.3 508.1,593.3 513.6,600.5 519.0,609.1 525.4,620.3" stroke="#e0200f" stroke-width="1.5"/>
<path d="M371.4,635.0 397.7,607.2 406.0,605.7 410.2,604.3 411.1,604.5 412.4,603.8 414.7,601.4 417.9,598.6 418.8,598.8 420.1,599.4 421.4,600.4 422.0,600.4 423.3,599.5 425.5,598.6 429.1,596.5 431.9,595.3 441.9,592.7 446.3,591.8 449.2,589.2 450.5,591.3 450.8,591.5 460.1,591.9 465.9,591.4 472.3,591.6 474.5,591.7 477.4,592.3 483.8,594.0 486.0,594.8 494.0,598.8 498.5,601.4 501.7,603.6 504.9,606.3 507.5,608.9 510.0,612.0 513.6,617.0 516.4,621.5 521.2,629.8 525.4,637.4" stroke="#111111" stroke-width="1.5"/>
<path d="M371.4,647.9 393.0,656.2 395.7,657.0 397.7,657.1 397.7,657.8 400.3,656.2 401.2,655.3 402.2,654.0 403.1,652.0 404.1,649.4 406.3,641.6 409.9,626.1 410.2,627.0 410.5,626.2 410.8,626.5 411.1,625.9 413.4,615.6 414.3,612.0 416.9,605.4 417.9,603.6 418.5,603.2 419.1,603.1 420.1,603.1 421.4,603.6 421.7,603.6 423.6,601.4 428.1,597.7 430.3,596.2 432.6,595.2 435.1,594.3 441.9,592.4 446.3,591.5 449.2,588.8 450.5,591.0 450.8,591.1 460.1,591.5 465.9,590.9 472.3,590.9 474.5,591.1 477.4,591.6 483.8,593.3 486.0,594.1 494.0,598.1 498.5,600.7 501.7,602.9 504.9,605.6 507.5,608.2 510.0,611.3 513.6,616.3 516.4,620.8 521.2,629.1 525.4,636.7" stroke="#2a6fdc" stroke-width="1.5"/>
<path d="M371.4,648.7 386.2,654.5 395.0,657.6 396.4,657.9 397.7,657.8 400.3,656.3 401.5,655.1 402.5,653.8 406.3,646.5 407.3,644.1 409.2,637.9 410.2,635.6 410.5,635.7 410.8,638.0 411.1,638.5 412.1,634.6 413.4,626.5 414.3,622.2 417.5,613.3 417.9,612.9 418.2,612.9 418.8,613.4 420.1,615.4 421.4,618.8 421.7,619.1 422.0,618.9 423.3,615.7 425.5,612.4 428.7,606.0 430.7,603.1 432.6,600.8 434.8,598.7 437.7,596.7 441.9,594.4 446.3,592.9 449.2,590.3 450.5,592.2 450.8,592.3 452.7,592.3 460.4,592.9 465.9,592.8 472.3,593.4 474.5,593.8 483.8,596.0 487.0,597.1 493.1,599.9 499.5,603.4 502.7,605.6 505.9,608.4 508.1,610.7 510.7,613.9 513.9,618.3 516.8,622.8 521.6,630.9 525.4,637.8" stroke="#55d040" stroke-width="1.5"/>
<path d="M371.4,659.6 384.2,659.3 394.3,658.8 397.0,658.2 399.6,656.7 400.9,655.7 402.8,653.3 406.3,646.5 407.3,644.1 409.2,637.9 410.2,635.6 410.5,635.7 410.8,638.0 411.1,638.5 412.1,634.6 413.4,626.5 414.3,622.2 417.5,613.3 417.9,612.9 418.2,612.9 418.8,613.4 420.1,615.5 421.4,618.9 421.7,619.3 422.0,619.1 423.3,616.2 425.5,613.8 427.8,610.4 429.7,608.1 432.3,606.1 436.7,603.8 438.7,602.6 443.5,598.2 446.7,595.8 449.2,593.0 450.5,594.3 450.8,595.3 452.4,594.8 454.0,594.6 465.2,594.3 473.6,594.7 477.1,595.3 483.8,596.8 486.4,597.7 494.4,601.3 498.8,603.7 502.0,605.8 505.2,608.4 507.8,610.9 510.4,614.0 513.9,618.8 516.4,622.8 521.2,630.8 525.4,638.2" stroke="#e0200f" stroke-width="1.5"/>
<path d="M371.4,658.1 397.7,625.0 402.2,624.0 406.0,622.5 407.6,621.6 410.2,619.3 410.5,619.3 410.8,620.0 411.1,620.1 411.5,619.8 412.4,618.1 414.7,612.6 416.3,610.1 417.2,608.2 417.9,607.4 418.5,607.5 419.1,608.1 420.1,609.1 421.1,610.7 421.7,611.3 422.3,610.9 423.3,609.4 425.5,607.8 428.7,604.5 431.9,602.3 434.8,601.1 440.9,599.2 446.7,597.9 449.2,596.8 450.5,597.9 453.1,598.3 456.3,599.2 462.7,601.4 465.2,602.4 471.0,605.7 478.7,609.6 486.0,612.6 493.7,616.5 498.2,619.1 501.7,621.5 504.6,623.9 507.2,626.4 509.4,629.1 512.0,632.6 517.4,641.1 525.4,655.4" stroke="#111111" stroke-width="1.5"/>
<path d="M371.4,671.0 383.5,673.2 392.3,674.3 395.0,674.2 396.4,673.6 397.7,672.2 397.7,672.8 400.9,667.4 402.5,663.1 406.7,648.0 409.5,635.3 409.9,634.2 410.2,634.2 410.5,633.9 410.8,635.4 411.1,635.4 412.1,630.9 413.4,623.2 414.3,619.0 417.5,610.3 418.2,609.7 418.8,609.9 420.1,611.0 421.1,612.6 421.7,613.2 422.3,612.5 423.3,610.6 425.5,608.5 428.1,605.4 429.7,603.9 431.6,602.6 433.5,601.6 436.1,600.6 441.9,598.8 446.3,597.9 449.2,596.6 450.5,597.7 453.1,598.1 456.3,599.0 462.7,601.1 465.6,602.2 471.0,605.2 479.0,609.1 484.8,611.3 487.6,612.7 496.6,617.4 501.7,620.8 504.6,623.2 507.2,625.7 509.4,628.4 512.0,631.9 517.4,640.4 525.4,654.7" stroke="#2a6fdc" stroke-width="1.5"/>
<path d="M371.4,671.8 382.9,673.9 391.6,675.0 393.7,675.1 395.0,674.9 396.4,674.3 397.0,673.7 400.3,668.7 401.9,665.2 407.0,649.4 409.2,640.3 410.2,637.7 410.5,637.8 410.8,640.4 411.1,641.1 412.1,636.5 413.4,627.6 414.3,622.9 417.5,613.7 417.9,613.3 418.2,613.3 419.1,614.3 420.1,615.9 421.1,618.7 421.7,619.8 422.0,619.6 422.3,619.0 423.3,616.5 425.5,613.7 428.7,608.4 430.3,606.4 432.3,604.6 435.1,602.7 439.9,600.4 442.5,599.4 446.7,598.4 449.2,597.3 450.5,598.3 452.7,598.6 455.9,599.5 464.3,602.7 466.8,604.2 471.6,607.4 478.0,611.2 480.6,612.4 486.4,614.6 494.7,618.6 499.2,621.1 502.7,623.5 505.2,625.7 507.8,628.2 510.0,631.0 513.2,635.3 518.4,643.4 525.4,655.8" stroke="#55d040" stroke-width="1.5"/>
<path d="M371.4,682.6 382.9,679.9 392.3,677.1 395.0,675.9 396.4,674.8 397.0,673.9 400.3,668.7 401.9,665.2 407.0,649.4 409.2,640.3 410.2,637.7 410.5,637.8 410.8,640.4 411.1,641.1 412.1,636.5 413.4,627.6 414.3,622.9 417.2,614.4 417.9,613.3 418.5,613.5 419.8,615.4 421.4,619.5 421.7,619.9 422.0,619.7 422.3,619.1 423.6,616.2 425.5,614.2 428.7,609.4 431.3,606.9 433.5,605.5 438.3,603.4 442.5,601.3 449.2,598.5 450.5,599.2 450.8,599.6 453.1,599.7 455.9,600.4 459.1,601.4 463.3,603.1 466.5,604.9 471.6,608.3 478.4,612.2 480.9,613.4 486.4,615.4 494.7,619.3 498.8,621.6 502.4,623.9 505.2,626.3 507.8,628.8 512.9,635.4 518.0,643.3 525.4,656.2" stroke="#e0200f" stroke-width="1.5"/>
<path d="M371.4,681.1 393.7,648.8 397.7,642.6 400.3,641.7 401.9,640.9 403.5,639.7 405.4,637.8 407.3,635.5 409.2,631.6 410.2,630.0 410.5,630.1 410.8,631.6 411.1,631.9 412.1,629.2 413.4,623.2 414.3,619.6 417.2,612.5 417.9,611.4 418.5,611.6 419.5,612.8 420.1,613.7 421.4,616.7 421.7,617.0 422.0,616.8 422.3,616.3 423.3,614.3 425.5,612.1 428.7,607.9 430.0,606.6 431.9,605.2 435.1,603.7 441.2,601.5 444.7,600.7 449.2,600.0 450.5,600.5 453.1,601.0 456.3,602.4 459.8,604.2 463.0,606.2 464.9,607.9 467.2,610.1 475.8,621.1 478.7,624.5 480.3,626.0 483.2,628.1 499.2,637.6 502.4,639.9 505.6,642.7 509.4,647.0 514.5,654.3 520.6,664.5 525.4,673.3" stroke="#111111" stroke-width="1.5"/>
<path d="M371.4,694.0 376.8,693.8 381.5,693.4 384.9,692.9 390.3,691.6 393.0,690.7 394.3,689.8 395.7,688.1 396.4,687.0 397.7,683.1 397.7,683.5 401.5,671.6 404.7,658.2 407.0,650.0 409.5,638.7 410.2,637.2 410.5,637.1 410.8,639.5 411.1,639.9 412.1,635.2 413.4,626.5 414.3,621.9 417.2,613.5 417.9,612.3 418.5,612.4 419.5,613.5 420.1,614.5 421.4,617.5 421.7,617.7 422.3,617.0 423.3,614.8 425.5,612.4 428.4,608.3 429.7,606.9 431.6,605.4 434.8,603.8 440.9,601.6 442.8,601.1 448.3,600.1 449.2,600.0 450.5,600.5 452.4,600.8 454.0,601.3 458.5,603.4 462.7,605.9 464.9,607.7 467.2,610.0 475.8,620.6 478.7,624.0 480.3,625.5 482.8,627.3 498.8,636.7 502.0,639.0 505.2,641.7 509.1,645.9 514.2,653.1 520.3,663.3 525.4,672.6" stroke="#2a6fdc" stroke-width="1.5"/>
<path d="M371.4,694.8 376.8,694.6 381.5,694.2 384.2,693.8 389.6,692.5 392.3,691.6 393.7,690.9 395.0,689.6 395.7,688.7 397.0,685.7 401.2,672.8 404.7,658.6 407.0,650.9 409.5,640.0 410.2,638.3 410.5,638.4 410.8,641.2 411.1,641.9 412.1,637.1 413.4,627.9 414.3,623.2 417.2,614.5 417.9,613.4 418.5,613.6 419.8,615.5 421.4,619.6 421.7,620.0 422.0,619.8 422.3,619.2 423.3,616.8 425.5,614.2 428.4,609.6 430.0,607.7 431.9,606.1 435.1,604.2 440.9,601.9 443.8,601.1 448.3,600.3 449.2,600.2 454.0,601.5 458.5,603.6 462.7,606.2 464.9,608.2 467.2,610.6 476.1,622.8 478.7,626.1 480.6,628.0 482.8,629.7 489.2,633.6 499.8,639.4 503.0,641.7 505.9,644.2 509.4,648.1 514.5,655.1 520.6,665.1 525.4,673.7" stroke="#55d040" stroke-width="1.5"/>
<path d="M371.4,705.5 376.1,703.4 379.5,701.6 383.5,699.2 389.6,695.3 392.3,693.3 393.7,692.1 395.0,690.4 395.7,689.2 397.0,685.9 398.3,681.4 401.2,672.8 404.7,658.6 407.0,650.9 409.5,640.0 410.2,638.3 410.5,638.4 410.8,641.2 411.1,641.9 412.1,637.1 413.4,627.9 414.3,623.2 417.5,613.8 417.9,613.4 418.2,613.4 419.1,614.4 420.1,616.0 421.1,618.9 421.7,620.0 422.0,619.8 422.3,619.2 423.6,616.3 425.5,614.3 428.7,609.4 431.3,607.0 433.2,605.8 435.8,604.6 441.9,602.2 446.0,601.1 449.2,600.6 450.8,601.1 453.1,601.5 457.9,603.6 462.0,606.1 464.6,608.2 467.2,611.0 477.7,625.4 480.6,628.7 482.8,630.4 489.2,634.3 499.8,640.1 502.7,642.1 505.6,644.5 509.4,648.6 514.5,655.7 520.6,665.6 525.4,674.1" stroke="#e0200f" stroke-width="1.5"/>
<path d="M371.4,704.0 393.7,667.0 397.7,659.4 400.6,657.1 402.5,654.5 406.7,645.9 409.2,637.9 410.2,635.6 410.5,635.7 410.8,637.9 411.1,638.4 412.1,634.5 413.4,626.4 414.3,622.1 417.5,613.2 417.9,612.8 418.2,612.8 419.1,613.8 420.1,615.4 421.1,618.0 421.7,619.1 422.0,618.9 422.3,618.4 423.3,616.1 425.5,613.7 428.4,609.4 429.7,607.9 431.6,606.4 434.8,604.6 440.9,602.4 444.4,601.6 447.6,601.1 449.2,601.1 452.4,601.7 456.3,603.4 458.8,604.8 461.4,606.6 463.0,608.0 464.9,610.0 467.2,612.8 469.4,616.5 474.2,625.7 479.6,637.1 482.5,641.6 485.4,645.0 489.6,649.0 492.1,651.0 498.8,655.3 501.7,657.3 504.9,660.1 507.8,663.0 511.3,667.6 515.5,673.8 520.9,683.0 525.4,691.2" stroke="#111111" stroke-width="1.5"/>
<path d="M371.4,716.5 374.8,715.6 377.5,714.5 382.9,711.4 391.6,704.3 393.0,702.8 394.3,700.7 396.4,695.1 398.3,686.0 401.2,675.2 404.4,660.6 407.0,651.1 409.2,641.0 410.2,638.2 410.5,638.2 410.8,640.9 411.1,641.5 412.1,636.7 413.4,627.5 414.3,622.9 417.5,613.5 417.9,613.1 418.2,613.1 419.1,614.0 420.1,615.6 421.1,618.3 421.7,619.4 422.0,619.2 422.3,618.6 423.6,615.8 425.5,613.8 428.7,609.0 431.3,606.6 433.5,605.2 436.4,604.0 441.5,602.2 445.4,601.4 449.2,601.1 452.4,601.7 453.7,602.2 456.9,603.7 459.8,605.4 462.4,607.3 464.6,609.6 467.2,612.8 469.1,615.9 473.9,624.9 479.6,636.7 482.2,640.8 485.1,644.1 489.6,648.4 492.1,650.3 501.4,656.4 504.9,659.4 507.8,662.3 511.3,666.9 515.5,673.1 520.9,682.3 525.4,690.5" stroke="#2a6fdc" stroke-width="1.5"/>
<path d="M371.4,717.3 374.8,716.3 377.5,715.3 382.9,712.0 391.6,704.7 393.0,703.2 394.3,701.0 396.4,695.4 398.3,686.0 401.2,675.2 404.4,660.7 407.0,651.4 409.2,641.3 410.2,638.5 410.5,638.6 410.8,641.5 411.1,642.1 412.1,637.2 413.4,628.0 414.3,623.2 417.5,613.8 417.9,613.4 418.2,613.4 419.1,614.4 420.1,616.1 421.1,618.9 421.7,620.1 422.0,619.9 422.3,619.3 423.6,616.4 425.5,614.3 428.7,609.4 431.3,606.9 433.5,605.4 436.4,604.2 441.5,602.3 445.4,601.5 449.2,601.2 452.1,601.7 453.7,602.2 456.9,603.8 459.8,605.5 462.4,607.4 464.6,609.7 467.2,613.0 469.4,616.8 474.2,626.2 479.6,638.1 481.2,641.0 482.8,643.4 486.0,647.2 489.9,650.9 492.4,652.8 499.2,656.9 502.0,658.9 505.2,661.5 508.1,664.5 511.3,668.5 515.5,674.5 520.9,683.6 525.4,691.6" stroke="#55d040" stroke-width="1.5"/>
<path d="M371.4,727.5 376.8,723.2 380.8,718.8 384.2,714.8 387.6,710.5 391.6,706.0 393.0,704.1 394.3,701.6 396.4,695.5 398.3,686.0 401.2,675.2 404.4,660.7 407.0,651.4 409.2,641.3 410.2,638.5 410.5,638.6 410.8,641.5 411.1,642.1 411.5,640.9 414.0,624.6 415.0,621.0 417.5,613.8 417.9,613.4 418.2,613.4 419.1,614.4 420.1,616.1 421.1,618.9 421.7,620.1 422.0,619.9 422.3,619.3 423.6,616.4 425.5,614.3 428.7,609.5 430.7,607.5 432.6,606.1 434.5,605.1 440.3,602.9 442.8,602.1 446.0,601.5 448.3,601.3 449.5,601.3 452.7,602.0 456.3,603.5 459.1,605.2 462.0,607.3 464.0,609.1 466.8,612.7 469.1,616.3 474.2,626.4 480.0,639.2 481.6,642.0 483.2,644.4 487.0,648.8 490.2,651.9 492.8,653.7 499.2,657.6 502.0,659.5 505.2,662.2 508.1,665.0 511.3,669.1 515.5,675.1 520.9,684.0 525.4,692.0" stroke="#e0200f" stroke-width="1.5"/>
<path d="M371.4,714.6 393.7,675.2 396.4,669.9 397.7,666.7 400.6,663.2 402.2,660.3 406.7,648.6 409.2,639.3 410.2,636.9 410.5,636.9 410.8,639.4 411.1,640.0 412.1,635.7 413.4,627.1 414.3,622.6 417.5,613.5 417.9,613.1 418.2,613.1 419.1,614.1 420.1,615.7 421.1,618.4 421.7,619.5 422.0,619.4 422.3,618.8 423.3,616.4 425.5,614.0 428.4,609.6 429.7,608.1 431.6,606.5 434.8,604.8 440.6,602.7 442.8,602.1 447.0,601.3 449.2,601.3 452.1,601.8 453.7,602.4 456.3,603.6 459.1,605.3 461.7,607.1 463.3,608.6 465.2,610.8 467.8,614.4 471.0,620.5 475.2,629.5 480.3,642.2 482.2,646.0 484.4,649.7 488.3,655.0 491.2,658.1 493.7,660.2 502.7,666.5 505.9,669.4 508.4,672.2 511.6,676.5 515.5,682.2 520.9,691.4 525.4,699.6" stroke="#111111" stroke-width="1.5"/>
<path d="M371.4,726.7 374.1,725.5 376.8,723.9 382.2,719.0 384.2,716.8 387.6,712.7 389.6,710.7 391.6,708.4 393.0,706.5 394.3,703.8 396.4,697.2 398.7,685.6 401.2,675.6 404.4,660.8 407.0,651.3 409.2,641.2 410.2,638.4 410.5,638.4 410.8,641.2 411.1,641.8 412.1,636.9 413.4,627.7 414.3,623.0 417.5,613.7 417.9,613.3 418.2,613.2 419.1,614.2 420.1,615.8 421.1,618.6 421.7,619.7 422.0,619.5 422.3,618.9 423.6,616.0 425.5,614.0 428.7,609.2 431.3,606.8 433.2,605.6 436.1,604.3 441.5,602.4 445.1,601.6 447.3,601.3 449.2,601.3 452.1,601.8 453.7,602.4 457.2,604.1 460.1,605.9 462.7,608.0 464.9,610.4 467.5,613.8 470.4,619.1 474.8,628.6 480.3,641.9 482.2,645.7 484.4,649.3 488.0,654.0 490.8,657.1 493.7,659.5 499.8,663.6 502.7,665.8 505.9,668.7 508.4,671.5 511.6,675.8 515.5,681.5 520.9,690.7 525.4,698.9" stroke="#2a6fdc" stroke-width="1.5"/>
<path d="M371.4,727.4 374.1,726.2 376.8,724.6 381.5,720.2 384.2,717.3 387.6,713.1 389.6,711.1 391.6,708.7 393.0,706.7 394.3,704.1 396.4,697.3 398.7,685.6 401.2,675.6 404.4,660.9 407.0,651.5 409.2,641.4 410.2,638.6 410.5,638.7 410.8,641.5 411.1,642.2 412.1,637.3 413.4,628.0 414.3,623.2 417.5,613.8 417.9,613.4 418.2,613.4 419.1,614.4 420.1,616.1 421.1,618.9 421.7,620.1 422.0,619.9 422.3,619.3 423.6,616.4 425.5,614.3 428.7,609.4 431.3,606.9 433.5,605.5 436.4,604.3 441.5,602.4 445.1,601.6 447.3,601.3 449.2,601.3 452.1,601.8 453.7,602.4 457.2,604.1 460.1,606.0 462.7,608.0 464.9,610.4 467.8,614.5 470.7,620.0 475.2,629.8 480.9,644.4 483.2,648.8 485.4,652.4 488.6,656.8 491.5,659.9 494.0,661.9 500.1,665.9 503.0,668.0 506.2,670.9 508.8,673.6 512.3,678.3 515.8,683.5 520.9,692.0 525.4,700.0" stroke="#55d040" stroke-width="1.5"/>
<path d="M371.4,736.8 374.8,733.6 377.5,730.4 383.5,721.3 386.9,715.9 391.6,709.5 393.0,707.3 394.3,704.4 396.4,697.4 398.7,685.6 401.2,675.6 404.4,660.9 407.0,651.5 409.2,641.4 410.2,638.6 410.5,638.7 410.8,641.5 411.1,642.2 412.1,637.3 413.4,628.0 414.3,623.2 417.5,613.8 417.9,613.4 418.2,613.4 419.1,614.4 420.1,616.1 421.1,618.9 421.7,620.1 422.0,619.9 422.3,619.3 423.6,616.4 425.5,614.3 428.7,609.5 430.7,607.5 432.6,606.1 434.5,605.1 442.5,602.3 446.0,601.6 448.3,601.4 450.2,601.5 453.1,602.2 456.6,603.8 459.8,605.8 462.4,607.8 464.6,610.1 467.5,614.1 470.4,619.4 475.2,630.0 480.9,644.7 483.2,649.3 485.7,653.4 488.9,657.8 491.5,660.6 494.0,662.6 500.1,666.6 503.0,668.7 506.2,671.5 508.8,674.2 512.3,678.8 515.8,684.0 520.9,692.5 525.4,700.4" stroke="#e0200f" stroke-width="1.5"/>
</g>
<g id="axes">
<rect x="83.90" y="2.22" width="500.92" height="729.52" fill="none" stroke="#1a1a1a" stroke-width="1.3"/>
<line x1="83.90" y1="731.74" x2="83.90" y2="717.14" stroke="#1a1a1a" stroke-width="1.3"/>
<line x1="83.90" y1="2.22" x2="83.90" y2="16.82" stroke="#1a1a1a" stroke-width="1.3"/>
<line x1="101.79" y1="731.74" x2="101.79" y2="724.44" stroke="#1a1a1a" stroke-width="1.3"/>
<line x1="101.79" y1="2.22" x2="101.79" y2="9.52" stroke="#1a1a1a" stroke-width="1.3"/>
<line x1="119.68" y1="731.74" x2="119.68" y2="724.44" stroke="#1a1a1a" stroke-width="1.3"/>
<line x1="119.68" y1="2.22" x2="119.68" y2="9.52" stroke="#1a1a1a" stroke-width="1.3"/>
<line x1="137.57" y1="731.74" x2="137.57" y2="724.44" stroke="#1a1a1a" stroke-width="1.3"/>
<line x1="137.57" y1="2.22" x2="137.57" y2="9.52" stroke="#1a1a1a" stroke-width="1.3"/>
<line x1="155.46" y1="731.74" x2="155.46" y2="717.14" stroke="#1a1a1a" stroke-width="1.3"/>
<line x1="155.46" y1="2.22" x2="155.46" y2="16.82" stroke="#1a1a1a" stroke-width="1.3"/>
<line x1="173.35" y1="731.74" x2="173.35" y2="724.44" stroke="#1a1a1a" stroke-width="1.3"/>
<line x1="173.35" y1="2.22" x2="173.35" y2="9.52" stroke="#1a1a1a" stroke-width="1.3"/>
<line x1="191.24" y1="731.74" x2="191.24" y2="724.44" stroke="#1a1a1a" stroke-width="1.3"/>
<line x1="191.24" y1="2.22" x2="191.24" y2="9.52" stroke="#1a1a1a" stroke-width="1.3"/>
<line x1="209.13" y1="731.74" x2="209.13" y2="724.44" stroke="#1a1a1a" stroke-width="1.3"/>
<line x1="209.13" y1="2.22" x2="209.13" y2="9.52" stroke="#1a1a1a" stroke-width="1.3"/>
<line x1="227.02" y1="731.74" x2="227.02" y2="717.14" stroke="#1a1a1a" stroke-width="1.3"/>
<line x1="227.02" y1="2.22" x2="227.02" y2="16.82" stroke="#1a1a1a" stroke-width="1.3"/>
<line x1="244.91" y1="731.74" x2="244.91" y2="724.44" stroke="#1a1a1a" stroke-width="1.3"/>
<line x1="244.91" y1="2.22" x2="244.91" y2="9.52" stroke="#1a1a1a" stroke-width="1.3"/>
<line x1="262.80" y1="731.74" x2="262.80" y2="724.44" stroke="#1a1a1a" stroke-width="1.3"/>
<line x1="262.80" y1="2.22" x2="262.80" y2="9.52" stroke="#1a1a1a" stroke-width="1.3"/>
<line x1="280.69" y1="731.74" x2="280.69" y2="724.44" stroke="#1a1a1a" stroke-width="1.3"/>
<line x1="280.69" y1="2.22" x2="280.69" y2="9.52" stroke="#1a1a1a" stroke-width="1.3"/>
<line x1="298.58" y1="731.74" x2="298.58" y2="717.14" stroke="#1a1a1a" stroke-width="1.3"/>
<line x1="298.58" y1="2.22" x2="298.58" y2="16.82" stroke="#1a1a1a" stroke-width="1.3"/>
<line x1="316.47" y1="731.74" x2="316.47" y2="724.44" stroke="#1a1a1a" stroke-width="1.3"/>
<line x1="316.47" y1="2.22" x2="316.47" y2="9.52" stroke="#1a1a1a" stroke-width="1.3"/>
<line x1="334.36" y1="731.74" x2="334.36" y2="724.44" stroke="#1a1a1a" stroke-width="1.3"/>
<line x1="334.36" y1="2.22" x2="334.36" y2="9.52" stroke="#1a1a1a" stroke-width="1.3"/>
<line x1="352.25" y1="731.74" x2="352.25" y2="724.44" stroke="#1a1a1a" stroke-width="1.3"/>
<line x1="352.25" y1="2.22" x2="352.25" y2="9.52" stroke="#1a1a1a" stroke-width="1.3"/>
<line x1="370.14" y1="731.74" x2="370.14" y2="717.14" stroke="#1a1a1a" stroke-width="1.3"/>
<line x1="370.14" y1="2.22" x2="370.14" y2="16.82" stroke="#1a1a1a" stroke-width="1.3"/>
<line x1="388.03" y1="731.74" x2="388.03" y2="724.44" stroke="#1a1a1a" stroke-width="1.3"/>
<line x1="388.03" y1="2.22" x2="388.03" y2="9.52" stroke="#1a1a1a" stroke-width="1.3"/>
<line x1="405.92" y1="731.74" x2="405.92" y2="724.44" stroke="#1a1a1a" stroke-width="1.3"/>
<line x1="405.92" y1="2.22" x2="405.92" y2="9.52" stroke="#1a1a1a" stroke-width="1.3"/>
<line x1="423.81" y1="731.74" x2="423.81" y2="724.44" stroke="#1a1a1a" stroke-width="1.3"/>
<line x1="423.81" y1="2.22" x2="423.81" y2="9.52" stroke="#1a1a1a" stroke-width="1.3"/>
<line x1="441.70" y1="731.74" x2="441.70" y2="717.14" stroke="#1a1a1a" stroke-width="1.3"/>
<line x1="441.70" y1="2.22" x2="441.70" y2="16.82" stroke="#1a1a1a" stroke-width="1.3"/>
<line x1="459.59" y1="731.74" x2="459.59" y2="724.44" stroke="#1a1a1a" stroke-width="1.3"/>
<line x1="459.59" y1="2.22" x2="459.59" y2="9.52" stroke="#1a1a1a" stroke-width="1.3"/>
<line x1="477.48" y1="731.74" x2="477.48" y2="724.44" stroke="#1a1a1a" stroke-width="1.3"/>
<line x1="477.48" y1="2.22" x2="477.48" y2="9.52" stroke="#1a1a1a" stroke-width="1.3"/>
<line x1="495.37" y1="731.74" x2="495.37" y2="724.44" stroke="#1a1a1a" stroke-width="1.3"/>
<line x1="495.37" y1="2.22" x2="495.37" y2="9.52" stroke="#1a1a1a" stroke-width="1.3"/>
<line x1="513.26" y1="731.74" x2="513.26" y2="717.14" stroke="#1a1a1a" stroke-width="1.3"/>
<line x1="513.26" y1="2.22" x2="513.26" y2="16.82" stroke="#1a1a1a" stroke-width="1.3"/>
<line x1="531.15" y1="731.74" x2="531.15" y2="724.44" stroke="#1a1a1a" stroke-width="1.3"/>
<line x1="531.15" y1="2.22" x2="531.15" y2="9.52" stroke="#1a1a1a" stroke-width="1.3"/>
<line x1="549.04" y1="731.74" x2="549.04" y2="724.44" stroke="#1a1a1a" stroke-width="1.3"/>
<line x1="549.04" y1="2.22" x2="549.04" y2="9.52" stroke="#1a1a1a" stroke-width="1.3"/>
<line x1="566.93" y1="731.74" x2="566.93" y2="724.44" stroke="#1a1a1a" stroke-width="1.3"/>
<line x1="566.93" y1="2.22" x2="566.93" y2="9.52" stroke="#1a1a1a" stroke-width="1.3"/>
<line x1="584.82" y1="731.74" x2="584.82" y2="717.14" stroke="#1a1a1a" stroke-width="1.3"/>
<line x1="584.82" y1="2.22" x2="584.82" y2="16.82" stroke="#1a1a1a" stroke-width="1.3"/>
<line x1="83.90" y1="731.74" x2="88.90" y2="731.74" stroke="#1a1a1a" stroke-width="1.3"/>
<line x1="584.82" y1="731.74" x2="579.82" y2="731.74" stroke="#1a1a1a" stroke-width="1.3"/>
<line x1="83.90" y1="698.58" x2="88.90" y2="698.58" stroke="#1a1a1a" stroke-width="1.3"/>
<line x1="584.82" y1="698.58" x2="579.82" y2="698.58" stroke="#1a1a1a" stroke-width="1.3"/>
<line x1="83.90" y1="665.42" x2="88.90" y2="665.42" stroke="#1a1a1a" stroke-width="1.3"/>
<line x1="584.82" y1="665.42" x2="579.82" y2="665.42" stroke="#1a1a1a" stroke-width="1.3"/>
<line x1="83.90" y1="632.26" x2="88.90" y2="632.26" stroke="#1a1a1a" stroke-width="1.3"/>
<line x1="584.82" y1="632.26" x2="579.82" y2="632.26" stroke="#1a1a1a" stroke-width="1.3"/>
<line x1="83.90" y1="599.10" x2="93.90" y2="599.10" stroke="#1a1a1a" stroke-width="1.3"/>
<line x1="584.82" y1="599.10" x2="574.82" y2="599.10" stroke="#1a1a1a" stroke-width="1.3"/>
<line x1="83.90" y1="565.94" x2="88.90" y2="565.94" stroke="#1a1a1a" stroke-width="1.3"/>
<line x1="584.82" y1="565.94" x2="579.82" y2="565.94" stroke="#1a1a1a" stroke-width="1.3"/>
<line x1="83.90" y1="532.78" x2="88.90" y2="532.78" stroke="#1a1a1a" stroke-width="1.3"/>
<line x1="584.82" y1="532.78" x2="579.82" y2="532.78" stroke="#1a1a1a" stroke-width="1.3"/>
<line x1="83.90" y1="499.62" x2="88.90" y2="499.62" stroke="#1a1a1a" stroke-width="1.3"/>
<line x1="584.82" y1="499.62" x2="579.82" y2="499.62" stroke="#1a1a1a" stroke-width="1.3"/>
<line x1="83.90" y1="466.46" x2="88.90" y2="466.46" stroke="#1a1a1a" stroke-width="1.3"/>
<line x1="584.82" y1="466.46" x2="579.82" y2="466.46" stroke="#1a1a1a" stroke-width="1.3"/>
<line x1="83.90" y1="433.30" x2="93.90" y2="433.30" stroke="#1a1a1a" stroke-width="1.3"/>
<line x1="584.82" y1="433.30" x2="574.82" y2="433.30" stroke="#1a1a1a" stroke-width="1.3"/>
<line x1="83.90" y1="400.14" x2="88.90" y2="400.14" stroke="#1a1a1a" stroke-width="1.3"/>
<line x1="584.82" y1="400.14" x2="579.82" y2="400.14" stroke="#1a1a1a" stroke-width="1.3"/>
<line x1="83.90" y1="366.98" x2="88.90" y2="366.98" stroke="#1a1a1a" stroke-width="1.3"/>
<line x1="584.82" y1="366.98" x2="579.82" y2="366.98" stroke="#1a1a1a" stroke-width="1.3"/>
<line x1="83.90" y1="333.82" x2="88.90" y2="333.82" stroke="#1a1a1a" stroke-width="1.3"/>
<line x1="584.82" y1="333.82" x2="579.82" y2="333.82" stroke="#1a1a1a" stroke-width="1.3"/>
<line x1="83.90" y1="300.66" x2="88.90" y2="300.66" stroke="#1a1a1a" stroke-width="1.3"/>
<line x1="584.82" y1="300.66" x2="579.82" y2="300.66" stroke="#1a1a1a" stroke-width="1.3"/>
<line x1="83.90" y1="267.50" x2="93.90" y2="267.50" stroke="#1a1a1a" stroke-width="1.3"/>
<line x1="584.82" y1="267.50" x2="574.82" y2="267.50" stroke="#1a1a1a" stroke-width="1.3"/>
<line x1="83.90" y1="234.34" x2="88.90" y2="234.34" stroke="#1a1a1a" stroke-width="1.3"/>
<line x1="584.82" y1="234.34" x2="579.82" y2="234.34" stroke="#1a1a1a" stroke-width="1.3"/>
<line x1="83.90" y1="201.18" x2="88.90" y2="201.18" stroke="#1a1a1a" stroke-width="1.3"/>
<line x1="584.82" y1="201.18" x2="579.82" y2="201.18" stroke="#1a1a1a" stroke-width="1.3"/>
<line x1="83.90" y1="168.02" x2="88.90" y2="168.02" stroke="#1a1a1a" stroke-width="1.3"/>
<line x1="584.82" y1="168.02" x2="579.82" y2="168.02" stroke="#1a1a1a" stroke-width="1.3"/>
<line x1="83.90" y1="134.86" x2="88.90" y2="134.86" stroke="#1a1a1a" stroke-width="1.3"/>
<line x1="584.82" y1="134.86" x2="579.82" y2="134.86" stroke="#1a1a1a" stroke-width="1.3"/>
<line x1="83.90" y1="101.70" x2="93.90" y2="101.70" stroke="#1a1a1a" stroke-width="1.3"/>
<line x1="584.82" y1="101.70" x2="574.82" y2="101.70" stroke="#1a1a1a" stroke-width="1.3"/>
<line x1="83.90" y1="68.54" x2="88.90" y2="68.54" stroke="#1a1a1a" stroke-width="1.3"/>
<line x1="584.82" y1="68.54" x2="579.82" y2="68.54" stroke="#1a1a1a" stroke-width="1.3"/>
<line x1="83.90" y1="35.38" x2="88.90" y2="35.38" stroke="#1a1a1a" stroke-width="1.3"/>
<line x1="584.82" y1="35.38" x2="579.82" y2="35.38" stroke="#1a1a1a" stroke-width="1.3"/>
<line x1="83.90" y1="2.22" x2="88.90" y2="2.22" stroke="#1a1a1a" stroke-width="1.3"/>
<line x1="584.82" y1="2.22" x2="579.82" y2="2.22" stroke="#1a1a1a" stroke-width="1.3"/>
</g>
</svg>
</body></html>
